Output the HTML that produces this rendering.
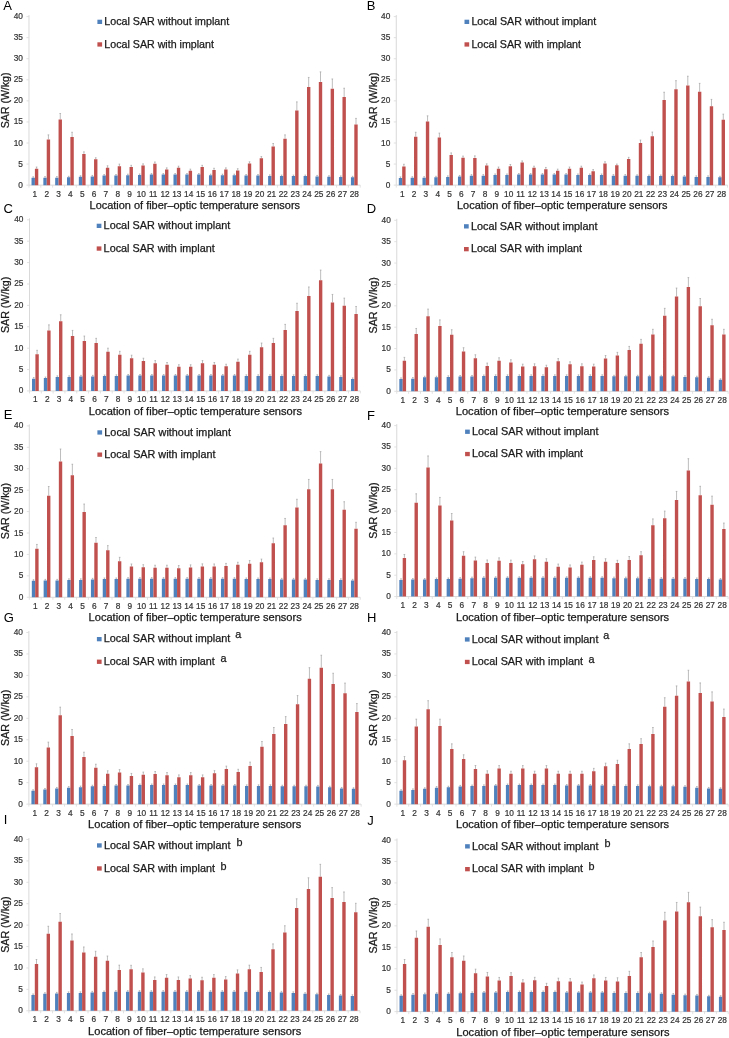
<!DOCTYPE html>
<html><head><meta charset="utf-8"><style>
html,body{margin:0;padding:0;background:#fff;}
svg{display:block;font-family:"Liberation Sans", sans-serif;filter:blur(0.3px);}
</style></head><body>
<svg width="729" height="1038" viewBox="0 0 729 1038">
<rect width="729" height="1038" fill="#fff"/>
<text x="3.3" y="9.9" font-size="13" fill="#000">A</text>
<text x="22.98" y="187.64" font-size="8.3" fill="#333333" stroke="#333333" stroke-width="0.2" text-anchor="end">0</text>
<line x1="26.48" y1="185.14" x2="28.98" y2="185.14" stroke="#D9D9D9" stroke-width="0.8"/>
<text x="22.98" y="166.57" font-size="8.3" fill="#333333" stroke="#333333" stroke-width="0.2" text-anchor="end">5</text>
<line x1="26.48" y1="164.07" x2="28.98" y2="164.07" stroke="#D9D9D9" stroke-width="0.8"/>
<text x="22.98" y="145.5" font-size="8.3" fill="#333333" stroke="#333333" stroke-width="0.2" text-anchor="end">10</text>
<line x1="26.48" y1="143" x2="28.98" y2="143" stroke="#D9D9D9" stroke-width="0.8"/>
<text x="22.98" y="124.44" font-size="8.3" fill="#333333" stroke="#333333" stroke-width="0.2" text-anchor="end">15</text>
<line x1="26.48" y1="121.94" x2="28.98" y2="121.94" stroke="#D9D9D9" stroke-width="0.8"/>
<text x="22.98" y="103.37" font-size="8.3" fill="#333333" stroke="#333333" stroke-width="0.2" text-anchor="end">20</text>
<line x1="26.48" y1="100.87" x2="28.98" y2="100.87" stroke="#D9D9D9" stroke-width="0.8"/>
<text x="22.98" y="82.3" font-size="8.3" fill="#333333" stroke="#333333" stroke-width="0.2" text-anchor="end">25</text>
<line x1="26.48" y1="79.8" x2="28.98" y2="79.8" stroke="#D9D9D9" stroke-width="0.8"/>
<text x="22.98" y="61.23" font-size="8.3" fill="#333333" stroke="#333333" stroke-width="0.2" text-anchor="end">30</text>
<line x1="26.48" y1="58.73" x2="28.98" y2="58.73" stroke="#D9D9D9" stroke-width="0.8"/>
<text x="22.98" y="40.17" font-size="8.3" fill="#333333" stroke="#333333" stroke-width="0.2" text-anchor="end">35</text>
<line x1="26.48" y1="37.67" x2="28.98" y2="37.67" stroke="#D9D9D9" stroke-width="0.8"/>
<text x="22.98" y="19.1" font-size="8.3" fill="#333333" stroke="#333333" stroke-width="0.2" text-anchor="end">40</text>
<line x1="26.48" y1="16.6" x2="28.98" y2="16.6" stroke="#D9D9D9" stroke-width="0.8"/>
<line x1="28.98" y1="15.1" x2="28.98" y2="185.14" stroke="#D9D9D9" stroke-width="1"/>
<line x1="28.98" y1="185.14" x2="360.23" y2="185.14" stroke="#D9D9D9" stroke-width="1"/>
<line x1="28.98" y1="185.14" x2="28.98" y2="187.64" stroke="#D9D9D9" stroke-width="0.8"/>
<line x1="40.81" y1="185.14" x2="40.81" y2="187.64" stroke="#D9D9D9" stroke-width="0.8"/>
<line x1="52.64" y1="185.14" x2="52.64" y2="187.64" stroke="#D9D9D9" stroke-width="0.8"/>
<line x1="64.47" y1="185.14" x2="64.47" y2="187.64" stroke="#D9D9D9" stroke-width="0.8"/>
<line x1="76.31" y1="185.14" x2="76.31" y2="187.64" stroke="#D9D9D9" stroke-width="0.8"/>
<line x1="88.13" y1="185.14" x2="88.13" y2="187.64" stroke="#D9D9D9" stroke-width="0.8"/>
<line x1="99.97" y1="185.14" x2="99.97" y2="187.64" stroke="#D9D9D9" stroke-width="0.8"/>
<line x1="111.8" y1="185.14" x2="111.8" y2="187.64" stroke="#D9D9D9" stroke-width="0.8"/>
<line x1="123.62" y1="185.14" x2="123.62" y2="187.64" stroke="#D9D9D9" stroke-width="0.8"/>
<line x1="135.45" y1="185.14" x2="135.45" y2="187.64" stroke="#D9D9D9" stroke-width="0.8"/>
<line x1="147.28" y1="185.14" x2="147.28" y2="187.64" stroke="#D9D9D9" stroke-width="0.8"/>
<line x1="159.12" y1="185.14" x2="159.12" y2="187.64" stroke="#D9D9D9" stroke-width="0.8"/>
<line x1="170.94" y1="185.14" x2="170.94" y2="187.64" stroke="#D9D9D9" stroke-width="0.8"/>
<line x1="182.77" y1="185.14" x2="182.77" y2="187.64" stroke="#D9D9D9" stroke-width="0.8"/>
<line x1="194.61" y1="185.14" x2="194.61" y2="187.64" stroke="#D9D9D9" stroke-width="0.8"/>
<line x1="206.44" y1="185.14" x2="206.44" y2="187.64" stroke="#D9D9D9" stroke-width="0.8"/>
<line x1="218.26" y1="185.14" x2="218.26" y2="187.64" stroke="#D9D9D9" stroke-width="0.8"/>
<line x1="230.1" y1="185.14" x2="230.1" y2="187.64" stroke="#D9D9D9" stroke-width="0.8"/>
<line x1="241.93" y1="185.14" x2="241.93" y2="187.64" stroke="#D9D9D9" stroke-width="0.8"/>
<line x1="253.75" y1="185.14" x2="253.75" y2="187.64" stroke="#D9D9D9" stroke-width="0.8"/>
<line x1="265.58" y1="185.14" x2="265.58" y2="187.64" stroke="#D9D9D9" stroke-width="0.8"/>
<line x1="277.42" y1="185.14" x2="277.42" y2="187.64" stroke="#D9D9D9" stroke-width="0.8"/>
<line x1="289.25" y1="185.14" x2="289.25" y2="187.64" stroke="#D9D9D9" stroke-width="0.8"/>
<line x1="301.07" y1="185.14" x2="301.07" y2="187.64" stroke="#D9D9D9" stroke-width="0.8"/>
<line x1="312.91" y1="185.14" x2="312.91" y2="187.64" stroke="#D9D9D9" stroke-width="0.8"/>
<line x1="324.74" y1="185.14" x2="324.74" y2="187.64" stroke="#D9D9D9" stroke-width="0.8"/>
<line x1="336.56" y1="185.14" x2="336.56" y2="187.64" stroke="#D9D9D9" stroke-width="0.8"/>
<line x1="348.4" y1="185.14" x2="348.4" y2="187.64" stroke="#D9D9D9" stroke-width="0.8"/>
<line x1="360.23" y1="185.14" x2="360.23" y2="187.64" stroke="#D9D9D9" stroke-width="0.8"/>
<text transform="translate(8.8,100.37) rotate(-90)" font-size="10.5" fill="#1a1a1a" stroke="#1a1a1a" stroke-width="0.25" text-anchor="middle" textLength="55.6" lengthAdjust="spacingAndGlyphs">SAR (W/kg)</text>
<text x="89.6" y="208.7" font-size="10.2" fill="#1a1a1a" stroke="#1a1a1a" stroke-width="0.25" textLength="210.4" lengthAdjust="spacingAndGlyphs">Location of fiber–optic temperature sensors</text>
<text x="34.9" y="196.64" font-size="8.3" fill="#333333" stroke="#333333" stroke-width="0.2" text-anchor="middle">1</text>
<text x="46.73" y="196.64" font-size="8.3" fill="#333333" stroke="#333333" stroke-width="0.2" text-anchor="middle">2</text>
<text x="58.56" y="196.64" font-size="8.3" fill="#333333" stroke="#333333" stroke-width="0.2" text-anchor="middle">3</text>
<text x="70.39" y="196.64" font-size="8.3" fill="#333333" stroke="#333333" stroke-width="0.2" text-anchor="middle">4</text>
<text x="82.22" y="196.64" font-size="8.3" fill="#333333" stroke="#333333" stroke-width="0.2" text-anchor="middle">5</text>
<text x="94.05" y="196.64" font-size="8.3" fill="#333333" stroke="#333333" stroke-width="0.2" text-anchor="middle">6</text>
<text x="105.88" y="196.64" font-size="8.3" fill="#333333" stroke="#333333" stroke-width="0.2" text-anchor="middle">7</text>
<text x="117.71" y="196.64" font-size="8.3" fill="#333333" stroke="#333333" stroke-width="0.2" text-anchor="middle">8</text>
<text x="129.54" y="196.64" font-size="8.3" fill="#333333" stroke="#333333" stroke-width="0.2" text-anchor="middle">9</text>
<text x="141.37" y="196.64" font-size="8.3" fill="#333333" stroke="#333333" stroke-width="0.2" text-anchor="middle">10</text>
<text x="153.2" y="196.64" font-size="8.3" fill="#333333" stroke="#333333" stroke-width="0.2" text-anchor="middle">11</text>
<text x="165.03" y="196.64" font-size="8.3" fill="#333333" stroke="#333333" stroke-width="0.2" text-anchor="middle">12</text>
<text x="176.86" y="196.64" font-size="8.3" fill="#333333" stroke="#333333" stroke-width="0.2" text-anchor="middle">13</text>
<text x="188.69" y="196.64" font-size="8.3" fill="#333333" stroke="#333333" stroke-width="0.2" text-anchor="middle">14</text>
<text x="200.52" y="196.64" font-size="8.3" fill="#333333" stroke="#333333" stroke-width="0.2" text-anchor="middle">15</text>
<text x="212.35" y="196.64" font-size="8.3" fill="#333333" stroke="#333333" stroke-width="0.2" text-anchor="middle">16</text>
<text x="224.18" y="196.64" font-size="8.3" fill="#333333" stroke="#333333" stroke-width="0.2" text-anchor="middle">17</text>
<text x="236.01" y="196.64" font-size="8.3" fill="#333333" stroke="#333333" stroke-width="0.2" text-anchor="middle">18</text>
<text x="247.84" y="196.64" font-size="8.3" fill="#333333" stroke="#333333" stroke-width="0.2" text-anchor="middle">19</text>
<text x="259.67" y="196.64" font-size="8.3" fill="#333333" stroke="#333333" stroke-width="0.2" text-anchor="middle">20</text>
<text x="271.5" y="196.64" font-size="8.3" fill="#333333" stroke="#333333" stroke-width="0.2" text-anchor="middle">21</text>
<text x="283.33" y="196.64" font-size="8.3" fill="#333333" stroke="#333333" stroke-width="0.2" text-anchor="middle">22</text>
<text x="295.16" y="196.64" font-size="8.3" fill="#333333" stroke="#333333" stroke-width="0.2" text-anchor="middle">23</text>
<text x="306.99" y="196.64" font-size="8.3" fill="#333333" stroke="#333333" stroke-width="0.2" text-anchor="middle">24</text>
<text x="318.82" y="196.64" font-size="8.3" fill="#333333" stroke="#333333" stroke-width="0.2" text-anchor="middle">25</text>
<text x="330.65" y="196.64" font-size="8.3" fill="#333333" stroke="#333333" stroke-width="0.2" text-anchor="middle">26</text>
<text x="342.48" y="196.64" font-size="8.3" fill="#333333" stroke="#333333" stroke-width="0.2" text-anchor="middle">27</text>
<text x="354.31" y="196.64" font-size="8.3" fill="#333333" stroke="#333333" stroke-width="0.2" text-anchor="middle">28</text>
<rect x="97.4" y="19.7" width="4.7" height="4.3" fill="#4F81BD"/>
<rect x="97.4" y="42.3" width="4.7" height="4.3" fill="#C0504D"/>
<text x="104.33" y="25" font-size="10.2" fill="#1a1a1a" stroke="#1a1a1a" stroke-width="0.25" textLength="124.8" lengthAdjust="spacingAndGlyphs">Local SAR without implant</text>
<text x="104.33" y="47.6" font-size="10.2" fill="#1a1a1a" stroke="#1a1a1a" stroke-width="0.25" textLength="109.6" lengthAdjust="spacingAndGlyphs">Local SAR with implant</text>
<path d="M33.21 177.85V176.8M32.41 176.8h1.6M36.59 168.71V167.02M35.79 167.02h1.6M45.04 177.68V176.63M44.24 176.63h1.6M48.42 139.38V134.87M47.62 134.87h1.6M56.87 177.68V176.63M56.07 176.63h1.6M60.25 119.41V113.51M59.45 113.51h1.6M68.7 177.35V176.29M67.9 176.29h1.6M72.08 137.11V132.26M71.28 132.26h1.6M80.53 176.8V175.74M79.73 175.74h1.6M83.91 153.96V151.85M83.11 151.85h1.6M92.36 176.46V175.41M91.56 175.41h1.6M95.74 159.14V157.75M94.94 157.75h1.6M104.19 175.62V174.56M103.39 174.56h1.6M107.57 167.86V165.76M106.77 165.76h1.6M116.02 175.62V174.56M115.22 174.56h1.6M119.4 166.18V164.07M118.6 164.07h1.6M127.85 175.24V174.18M127.05 174.18h1.6M131.23 167.02V165.34M130.43 165.34h1.6M139.68 175.03V173.97M138.88 173.97h1.6M143.06 165.55V163.86M142.26 163.86h1.6M151.51 174.61V173.55M150.71 173.55h1.6M154.89 163.65V161.97M154.09 161.97h1.6M163.34 174.61V173.55M162.54 173.55h1.6M166.72 169.55V167.86M165.92 167.86h1.6M175.17 174.61V173.55M174.37 173.55h1.6M178.55 167.86V166.18M177.75 166.18h1.6M187 174.61V173.55M186.2 173.55h1.6M190.38 170.81V169.13M189.58 169.13h1.6M198.83 174.61V173.55M198.03 173.55h1.6M202.21 167.02V165.34M201.41 165.34h1.6M210.66 175.24V174.18M209.86 174.18h1.6M214.04 169.97V168.29M213.24 168.29h1.6M222.49 175.24V174.18M221.69 174.18h1.6M225.87 169.55V167.86M225.07 167.86h1.6M234.32 175.24V174.18M233.52 174.18h1.6M237.7 170.39V168.71M236.9 168.71h1.6M246.15 175.62V174.56M245.35 174.56h1.6M249.53 163.48V161.8M248.73 161.8h1.6M257.98 175.62V174.56M257.18 174.56h1.6M261.36 158.26V156.57M260.56 156.57h1.6M269.81 175.95V174.9M269.01 174.9h1.6M273.19 146.46V143.51M272.39 143.51h1.6M281.64 176.12V175.07M280.84 175.07h1.6M285.02 138.67V134.87M284.22 134.87h1.6M293.47 176.12V175.07M292.67 175.07h1.6M296.85 110.56V101.88M296.05 101.88h1.6M305.3 176.12V175.07M304.5 175.07h1.6M308.68 86.97V77.44M307.88 77.44h1.6M317.13 176.46V175.41M316.33 175.41h1.6M320.51 81.91V71.88M319.71 71.88h1.6M328.96 176.8V175.74M328.16 175.74h1.6M332.34 88.65V78.96M331.54 78.96h1.6M340.79 177.01V175.95M339.99 175.95h1.6M344.17 97.08V88.23M343.37 88.23h1.6M352.62 177.35V176.29M351.82 176.29h1.6M356 124.47V118.4M355.2 118.4h1.6" stroke="#A0A0A0" stroke-width="0.7" fill="none"/>
<path d="M31.52 185.14h3.38v-7.29h-3.38zM43.35 185.14h3.38v-7.46h-3.38zM55.18 185.14h3.38v-7.46h-3.38zM67.01 185.14h3.38v-7.79h-3.38zM78.84 185.14h3.38v-8.34h-3.38zM90.67 185.14h3.38v-8.68h-3.38zM102.5 185.14h3.38v-9.52h-3.38zM114.33 185.14h3.38v-9.52h-3.38zM126.16 185.14h3.38v-9.9h-3.38zM137.99 185.14h3.38v-10.11h-3.38zM149.82 185.14h3.38v-10.53h-3.38zM161.65 185.14h3.38v-10.53h-3.38zM173.48 185.14h3.38v-10.53h-3.38zM185.31 185.14h3.38v-10.53h-3.38zM197.14 185.14h3.38v-10.53h-3.38zM208.97 185.14h3.38v-9.9h-3.38zM220.8 185.14h3.38v-9.9h-3.38zM232.63 185.14h3.38v-9.9h-3.38zM244.46 185.14h3.38v-9.52h-3.38zM256.29 185.14h3.38v-9.52h-3.38zM268.12 185.14h3.38v-9.19h-3.38zM279.95 185.14h3.38v-9.02h-3.38zM291.78 185.14h3.38v-9.02h-3.38zM303.61 185.14h3.38v-9.02h-3.38zM315.44 185.14h3.38v-8.68h-3.38zM327.27 185.14h3.38v-8.34h-3.38zM339.1 185.14h3.38v-8.13h-3.38zM350.93 185.14h3.38v-7.79h-3.38z" fill="#4F81BD"/>
<path d="M34.9 185.14h3.38v-16.43h-3.38zM46.73 185.14h3.38v-45.76h-3.38zM58.56 185.14h3.38v-65.73h-3.38zM70.39 185.14h3.38v-48.03h-3.38zM82.22 185.14h3.38v-31.18h-3.38zM94.05 185.14h3.38v-26h-3.38zM105.88 185.14h3.38v-17.28h-3.38zM117.71 185.14h3.38v-18.96h-3.38zM129.54 185.14h3.38v-18.12h-3.38zM141.37 185.14h3.38v-19.59h-3.38zM153.2 185.14h3.38v-21.49h-3.38zM165.03 185.14h3.38v-15.59h-3.38zM176.86 185.14h3.38v-17.28h-3.38zM188.69 185.14h3.38v-14.33h-3.38zM200.52 185.14h3.38v-18.12h-3.38zM212.35 185.14h3.38v-15.17h-3.38zM224.18 185.14h3.38v-15.59h-3.38zM236.01 185.14h3.38v-14.75h-3.38zM247.84 185.14h3.38v-21.66h-3.38zM259.67 185.14h3.38v-26.88h-3.38zM271.5 185.14h3.38v-38.68h-3.38zM283.33 185.14h3.38v-46.47h-3.38zM295.16 185.14h3.38v-74.58h-3.38zM306.99 185.14h3.38v-98.17h-3.38zM318.82 185.14h3.38v-103.23h-3.38zM330.65 185.14h3.38v-96.49h-3.38zM342.48 185.14h3.38v-88.06h-3.38zM354.31 185.14h3.38v-60.67h-3.38z" fill="#C0504D"/>
<text x="366.7" y="10.2" font-size="13" fill="#000">B</text>
<text x="390.28" y="187.64" font-size="8.3" fill="#333333" stroke="#333333" stroke-width="0.2" text-anchor="end">0</text>
<line x1="393.78" y1="185.14" x2="396.28" y2="185.14" stroke="#D9D9D9" stroke-width="0.8"/>
<text x="390.28" y="166.57" font-size="8.3" fill="#333333" stroke="#333333" stroke-width="0.2" text-anchor="end">5</text>
<line x1="393.78" y1="164.07" x2="396.28" y2="164.07" stroke="#D9D9D9" stroke-width="0.8"/>
<text x="390.28" y="145.5" font-size="8.3" fill="#333333" stroke="#333333" stroke-width="0.2" text-anchor="end">10</text>
<line x1="393.78" y1="143" x2="396.28" y2="143" stroke="#D9D9D9" stroke-width="0.8"/>
<text x="390.28" y="124.44" font-size="8.3" fill="#333333" stroke="#333333" stroke-width="0.2" text-anchor="end">15</text>
<line x1="393.78" y1="121.94" x2="396.28" y2="121.94" stroke="#D9D9D9" stroke-width="0.8"/>
<text x="390.28" y="103.37" font-size="8.3" fill="#333333" stroke="#333333" stroke-width="0.2" text-anchor="end">20</text>
<line x1="393.78" y1="100.87" x2="396.28" y2="100.87" stroke="#D9D9D9" stroke-width="0.8"/>
<text x="390.28" y="82.3" font-size="8.3" fill="#333333" stroke="#333333" stroke-width="0.2" text-anchor="end">25</text>
<line x1="393.78" y1="79.8" x2="396.28" y2="79.8" stroke="#D9D9D9" stroke-width="0.8"/>
<text x="390.28" y="61.23" font-size="8.3" fill="#333333" stroke="#333333" stroke-width="0.2" text-anchor="end">30</text>
<line x1="393.78" y1="58.73" x2="396.28" y2="58.73" stroke="#D9D9D9" stroke-width="0.8"/>
<text x="390.28" y="40.17" font-size="8.3" fill="#333333" stroke="#333333" stroke-width="0.2" text-anchor="end">35</text>
<line x1="393.78" y1="37.67" x2="396.28" y2="37.67" stroke="#D9D9D9" stroke-width="0.8"/>
<text x="390.28" y="19.1" font-size="8.3" fill="#333333" stroke="#333333" stroke-width="0.2" text-anchor="end">40</text>
<line x1="393.78" y1="16.6" x2="396.28" y2="16.6" stroke="#D9D9D9" stroke-width="0.8"/>
<line x1="396.28" y1="15.1" x2="396.28" y2="185.14" stroke="#D9D9D9" stroke-width="1"/>
<line x1="396.28" y1="185.14" x2="727.52" y2="185.14" stroke="#D9D9D9" stroke-width="1"/>
<line x1="396.28" y1="185.14" x2="396.28" y2="187.64" stroke="#D9D9D9" stroke-width="0.8"/>
<line x1="408.11" y1="185.14" x2="408.11" y2="187.64" stroke="#D9D9D9" stroke-width="0.8"/>
<line x1="419.94" y1="185.14" x2="419.94" y2="187.64" stroke="#D9D9D9" stroke-width="0.8"/>
<line x1="431.77" y1="185.14" x2="431.77" y2="187.64" stroke="#D9D9D9" stroke-width="0.8"/>
<line x1="443.6" y1="185.14" x2="443.6" y2="187.64" stroke="#D9D9D9" stroke-width="0.8"/>
<line x1="455.43" y1="185.14" x2="455.43" y2="187.64" stroke="#D9D9D9" stroke-width="0.8"/>
<line x1="467.26" y1="185.14" x2="467.26" y2="187.64" stroke="#D9D9D9" stroke-width="0.8"/>
<line x1="479.09" y1="185.14" x2="479.09" y2="187.64" stroke="#D9D9D9" stroke-width="0.8"/>
<line x1="490.92" y1="185.14" x2="490.92" y2="187.64" stroke="#D9D9D9" stroke-width="0.8"/>
<line x1="502.75" y1="185.14" x2="502.75" y2="187.64" stroke="#D9D9D9" stroke-width="0.8"/>
<line x1="514.58" y1="185.14" x2="514.58" y2="187.64" stroke="#D9D9D9" stroke-width="0.8"/>
<line x1="526.41" y1="185.14" x2="526.41" y2="187.64" stroke="#D9D9D9" stroke-width="0.8"/>
<line x1="538.25" y1="185.14" x2="538.25" y2="187.64" stroke="#D9D9D9" stroke-width="0.8"/>
<line x1="550.07" y1="185.14" x2="550.07" y2="187.64" stroke="#D9D9D9" stroke-width="0.8"/>
<line x1="561.9" y1="185.14" x2="561.9" y2="187.64" stroke="#D9D9D9" stroke-width="0.8"/>
<line x1="573.73" y1="185.14" x2="573.73" y2="187.64" stroke="#D9D9D9" stroke-width="0.8"/>
<line x1="585.56" y1="185.14" x2="585.56" y2="187.64" stroke="#D9D9D9" stroke-width="0.8"/>
<line x1="597.39" y1="185.14" x2="597.39" y2="187.64" stroke="#D9D9D9" stroke-width="0.8"/>
<line x1="609.22" y1="185.14" x2="609.22" y2="187.64" stroke="#D9D9D9" stroke-width="0.8"/>
<line x1="621.05" y1="185.14" x2="621.05" y2="187.64" stroke="#D9D9D9" stroke-width="0.8"/>
<line x1="632.88" y1="185.14" x2="632.88" y2="187.64" stroke="#D9D9D9" stroke-width="0.8"/>
<line x1="644.71" y1="185.14" x2="644.71" y2="187.64" stroke="#D9D9D9" stroke-width="0.8"/>
<line x1="656.54" y1="185.14" x2="656.54" y2="187.64" stroke="#D9D9D9" stroke-width="0.8"/>
<line x1="668.38" y1="185.14" x2="668.38" y2="187.64" stroke="#D9D9D9" stroke-width="0.8"/>
<line x1="680.2" y1="185.14" x2="680.2" y2="187.64" stroke="#D9D9D9" stroke-width="0.8"/>
<line x1="692.03" y1="185.14" x2="692.03" y2="187.64" stroke="#D9D9D9" stroke-width="0.8"/>
<line x1="703.87" y1="185.14" x2="703.87" y2="187.64" stroke="#D9D9D9" stroke-width="0.8"/>
<line x1="715.69" y1="185.14" x2="715.69" y2="187.64" stroke="#D9D9D9" stroke-width="0.8"/>
<line x1="727.52" y1="185.14" x2="727.52" y2="187.64" stroke="#D9D9D9" stroke-width="0.8"/>
<text transform="translate(376.6,100.37) rotate(-90)" font-size="10.5" fill="#1a1a1a" stroke="#1a1a1a" stroke-width="0.25" text-anchor="middle" textLength="55.6" lengthAdjust="spacingAndGlyphs">SAR (W/kg)</text>
<text x="457" y="208.7" font-size="10.2" fill="#1a1a1a" stroke="#1a1a1a" stroke-width="0.25" textLength="210.4" lengthAdjust="spacingAndGlyphs">Location of fiber–optic temperature sensors</text>
<text x="402.2" y="196.64" font-size="8.3" fill="#333333" stroke="#333333" stroke-width="0.2" text-anchor="middle">1</text>
<text x="414.03" y="196.64" font-size="8.3" fill="#333333" stroke="#333333" stroke-width="0.2" text-anchor="middle">2</text>
<text x="425.86" y="196.64" font-size="8.3" fill="#333333" stroke="#333333" stroke-width="0.2" text-anchor="middle">3</text>
<text x="437.69" y="196.64" font-size="8.3" fill="#333333" stroke="#333333" stroke-width="0.2" text-anchor="middle">4</text>
<text x="449.52" y="196.64" font-size="8.3" fill="#333333" stroke="#333333" stroke-width="0.2" text-anchor="middle">5</text>
<text x="461.35" y="196.64" font-size="8.3" fill="#333333" stroke="#333333" stroke-width="0.2" text-anchor="middle">6</text>
<text x="473.18" y="196.64" font-size="8.3" fill="#333333" stroke="#333333" stroke-width="0.2" text-anchor="middle">7</text>
<text x="485.01" y="196.64" font-size="8.3" fill="#333333" stroke="#333333" stroke-width="0.2" text-anchor="middle">8</text>
<text x="496.84" y="196.64" font-size="8.3" fill="#333333" stroke="#333333" stroke-width="0.2" text-anchor="middle">9</text>
<text x="508.67" y="196.64" font-size="8.3" fill="#333333" stroke="#333333" stroke-width="0.2" text-anchor="middle">10</text>
<text x="520.5" y="196.64" font-size="8.3" fill="#333333" stroke="#333333" stroke-width="0.2" text-anchor="middle">11</text>
<text x="532.33" y="196.64" font-size="8.3" fill="#333333" stroke="#333333" stroke-width="0.2" text-anchor="middle">12</text>
<text x="544.16" y="196.64" font-size="8.3" fill="#333333" stroke="#333333" stroke-width="0.2" text-anchor="middle">13</text>
<text x="555.99" y="196.64" font-size="8.3" fill="#333333" stroke="#333333" stroke-width="0.2" text-anchor="middle">14</text>
<text x="567.82" y="196.64" font-size="8.3" fill="#333333" stroke="#333333" stroke-width="0.2" text-anchor="middle">15</text>
<text x="579.65" y="196.64" font-size="8.3" fill="#333333" stroke="#333333" stroke-width="0.2" text-anchor="middle">16</text>
<text x="591.48" y="196.64" font-size="8.3" fill="#333333" stroke="#333333" stroke-width="0.2" text-anchor="middle">17</text>
<text x="603.31" y="196.64" font-size="8.3" fill="#333333" stroke="#333333" stroke-width="0.2" text-anchor="middle">18</text>
<text x="615.14" y="196.64" font-size="8.3" fill="#333333" stroke="#333333" stroke-width="0.2" text-anchor="middle">19</text>
<text x="626.97" y="196.64" font-size="8.3" fill="#333333" stroke="#333333" stroke-width="0.2" text-anchor="middle">20</text>
<text x="638.8" y="196.64" font-size="8.3" fill="#333333" stroke="#333333" stroke-width="0.2" text-anchor="middle">21</text>
<text x="650.63" y="196.64" font-size="8.3" fill="#333333" stroke="#333333" stroke-width="0.2" text-anchor="middle">22</text>
<text x="662.46" y="196.64" font-size="8.3" fill="#333333" stroke="#333333" stroke-width="0.2" text-anchor="middle">23</text>
<text x="674.29" y="196.64" font-size="8.3" fill="#333333" stroke="#333333" stroke-width="0.2" text-anchor="middle">24</text>
<text x="686.12" y="196.64" font-size="8.3" fill="#333333" stroke="#333333" stroke-width="0.2" text-anchor="middle">25</text>
<text x="697.95" y="196.64" font-size="8.3" fill="#333333" stroke="#333333" stroke-width="0.2" text-anchor="middle">26</text>
<text x="709.78" y="196.64" font-size="8.3" fill="#333333" stroke="#333333" stroke-width="0.2" text-anchor="middle">27</text>
<text x="721.61" y="196.64" font-size="8.3" fill="#333333" stroke="#333333" stroke-width="0.2" text-anchor="middle">28</text>
<rect x="464.5" y="19.7" width="4.7" height="4.3" fill="#4F81BD"/>
<rect x="464.5" y="42.3" width="4.7" height="4.3" fill="#C0504D"/>
<text x="471.43" y="25" font-size="10.2" fill="#1a1a1a" stroke="#1a1a1a" stroke-width="0.25" textLength="124.8" lengthAdjust="spacingAndGlyphs">Local SAR without implant</text>
<text x="471.43" y="47.6" font-size="10.2" fill="#1a1a1a" stroke="#1a1a1a" stroke-width="0.25" textLength="109.6" lengthAdjust="spacingAndGlyphs">Local SAR with implant</text>
<path d="M400.51 177.98V176.92M399.71 176.92h1.6M403.89 166.6V164.28M403.09 164.28h1.6M412.34 177.77V176.71M411.54 176.71h1.6M415.72 136.68V132.26M414.92 132.26h1.6M424.17 177.77V176.71M423.37 176.71h1.6M427.55 121.52V115.83M426.75 115.83h1.6M436 177.35V176.29M435.2 176.29h1.6M439.38 137.53V133.1M438.58 133.1h1.6M447.83 176.92V175.87M447.03 175.87h1.6M451.21 155.01V152.91M450.41 152.91h1.6M459.66 176.5V175.45M458.86 175.45h1.6M463.04 157.75V156.07M462.24 156.07h1.6M471.49 175.66V174.61M470.69 174.61h1.6M474.87 157.96V155.86M474.07 155.86h1.6M483.32 175.66V174.61M482.52 174.61h1.6M486.7 165.55V163.86M485.9 163.86h1.6M495.15 175.03V173.97M494.35 173.97h1.6M498.53 168.71V167.02M497.73 167.02h1.6M506.98 175.03V173.97M506.18 173.97h1.6M510.36 166.18V164.49M509.56 164.49h1.6M518.81 174.61V173.55M518.01 173.55h1.6M522.19 162.6V160.91M521.39 160.91h1.6M530.64 174.61V173.55M529.84 173.55h1.6M534.02 167.86V166.18M533.22 166.18h1.6M542.47 174.61V173.55M541.67 173.55h1.6M545.85 169.13V167.44M545.05 167.44h1.6M554.3 174.61V173.55M553.5 173.55h1.6M557.68 170.81V169.13M556.88 169.13h1.6M566.13 174.61V173.55M565.33 173.55h1.6M569.51 168.71V167.02M568.71 167.02h1.6M577.96 175.03V173.97M577.16 173.97h1.6M581.34 167.86V166.18M580.54 166.18h1.6M589.79 175.03V173.97M588.99 173.97h1.6M593.17 171.24V169.55M592.37 169.55h1.6M601.62 175.03V173.97M600.82 173.97h1.6M605 163.44V161.76M604.2 161.76h1.6M613.45 175.66V174.61M612.65 174.61h1.6M616.83 165.34V164.07M616.03 164.07h1.6M625.28 175.66V174.61M624.48 174.61h1.6M628.66 159.02V157.33M627.86 157.33h1.6M637.11 175.87V174.82M636.31 174.82h1.6M640.49 143V140.06M639.69 140.06h1.6M648.94 176.08V175.03M648.14 175.03h1.6M652.32 136.26V132.05M651.52 132.05h1.6M660.77 176.08V175.03M659.97 175.03h1.6M664.15 100.03V92.23M663.35 92.23h1.6M672.6 176.08V175.03M671.8 175.03h1.6M675.98 89.28V80.65M675.18 80.65h1.6M684.43 176.5V175.45M683.63 175.45h1.6M687.81 85.49V76.22M687.01 76.22h1.6M696.26 176.92V175.87M695.46 175.87h1.6M699.64 91.81V83.38M698.84 83.38h1.6M708.09 176.92V175.87M707.29 175.87h1.6M711.47 106.35V99.4M710.67 99.4h1.6M719.92 177.35V176.29M719.12 176.29h1.6M723.3 119.83V114.14M722.5 114.14h1.6" stroke="#A0A0A0" stroke-width="0.7" fill="none"/>
<path d="M398.82 185.14h3.38v-7.16h-3.38zM410.65 185.14h3.38v-7.37h-3.38zM422.48 185.14h3.38v-7.37h-3.38zM434.31 185.14h3.38v-7.79h-3.38zM446.14 185.14h3.38v-8.22h-3.38zM457.97 185.14h3.38v-8.64h-3.38zM469.8 185.14h3.38v-9.48h-3.38zM481.63 185.14h3.38v-9.48h-3.38zM493.46 185.14h3.38v-10.11h-3.38zM505.29 185.14h3.38v-10.11h-3.38zM517.12 185.14h3.38v-10.53h-3.38zM528.95 185.14h3.38v-10.53h-3.38zM540.78 185.14h3.38v-10.53h-3.38zM552.61 185.14h3.38v-10.53h-3.38zM564.44 185.14h3.38v-10.53h-3.38zM576.27 185.14h3.38v-10.11h-3.38zM588.1 185.14h3.38v-10.11h-3.38zM599.93 185.14h3.38v-10.11h-3.38zM611.76 185.14h3.38v-9.48h-3.38zM623.59 185.14h3.38v-9.48h-3.38zM635.42 185.14h3.38v-9.27h-3.38zM647.25 185.14h3.38v-9.06h-3.38zM659.08 185.14h3.38v-9.06h-3.38zM670.91 185.14h3.38v-9.06h-3.38zM682.74 185.14h3.38v-8.64h-3.38zM694.57 185.14h3.38v-8.22h-3.38zM706.4 185.14h3.38v-8.22h-3.38zM718.23 185.14h3.38v-7.79h-3.38z" fill="#4F81BD"/>
<path d="M402.2 185.14h3.38v-18.54h-3.38zM414.03 185.14h3.38v-48.46h-3.38zM425.86 185.14h3.38v-63.62h-3.38zM437.69 185.14h3.38v-47.61h-3.38zM449.52 185.14h3.38v-30.13h-3.38zM461.35 185.14h3.38v-27.39h-3.38zM473.18 185.14h3.38v-27.18h-3.38zM485.01 185.14h3.38v-19.59h-3.38zM496.84 185.14h3.38v-16.43h-3.38zM508.67 185.14h3.38v-18.96h-3.38zM520.5 185.14h3.38v-22.54h-3.38zM532.33 185.14h3.38v-17.28h-3.38zM544.16 185.14h3.38v-16.01h-3.38zM555.99 185.14h3.38v-14.33h-3.38zM567.82 185.14h3.38v-16.43h-3.38zM579.65 185.14h3.38v-17.28h-3.38zM591.48 185.14h3.38v-13.9h-3.38zM603.31 185.14h3.38v-21.7h-3.38zM615.14 185.14h3.38v-19.8h-3.38zM626.97 185.14h3.38v-26.12h-3.38zM638.8 185.14h3.38v-42.13h-3.38zM650.63 185.14h3.38v-48.88h-3.38zM662.46 185.14h3.38v-85.11h-3.38zM674.29 185.14h3.38v-95.86h-3.38zM686.12 185.14h3.38v-99.65h-3.38zM697.95 185.14h3.38v-93.33h-3.38zM709.78 185.14h3.38v-78.79h-3.38zM721.61 185.14h3.38v-65.31h-3.38z" fill="#C0504D"/>
<text x="3.47" y="212.6" font-size="13" fill="#000">C</text>
<text x="23.49" y="393.46" font-size="8.3" fill="#333333" stroke="#333333" stroke-width="0.2" text-anchor="end">0</text>
<line x1="26.99" y1="390.96" x2="29.49" y2="390.96" stroke="#D9D9D9" stroke-width="0.8"/>
<text x="23.49" y="372.06" font-size="8.3" fill="#333333" stroke="#333333" stroke-width="0.2" text-anchor="end">5</text>
<line x1="26.99" y1="369.56" x2="29.49" y2="369.56" stroke="#D9D9D9" stroke-width="0.8"/>
<text x="23.49" y="350.67" font-size="8.3" fill="#333333" stroke="#333333" stroke-width="0.2" text-anchor="end">10</text>
<line x1="26.99" y1="348.17" x2="29.49" y2="348.17" stroke="#D9D9D9" stroke-width="0.8"/>
<text x="23.49" y="329.27" font-size="8.3" fill="#333333" stroke="#333333" stroke-width="0.2" text-anchor="end">15</text>
<line x1="26.99" y1="326.77" x2="29.49" y2="326.77" stroke="#D9D9D9" stroke-width="0.8"/>
<text x="23.49" y="307.88" font-size="8.3" fill="#333333" stroke="#333333" stroke-width="0.2" text-anchor="end">20</text>
<line x1="26.99" y1="305.38" x2="29.49" y2="305.38" stroke="#D9D9D9" stroke-width="0.8"/>
<text x="23.49" y="286.49" font-size="8.3" fill="#333333" stroke="#333333" stroke-width="0.2" text-anchor="end">25</text>
<line x1="26.99" y1="283.99" x2="29.49" y2="283.99" stroke="#D9D9D9" stroke-width="0.8"/>
<text x="23.49" y="265.09" font-size="8.3" fill="#333333" stroke="#333333" stroke-width="0.2" text-anchor="end">30</text>
<line x1="26.99" y1="262.59" x2="29.49" y2="262.59" stroke="#D9D9D9" stroke-width="0.8"/>
<text x="23.49" y="243.7" font-size="8.3" fill="#333333" stroke="#333333" stroke-width="0.2" text-anchor="end">35</text>
<line x1="26.99" y1="241.2" x2="29.49" y2="241.2" stroke="#D9D9D9" stroke-width="0.8"/>
<text x="23.49" y="222.3" font-size="8.3" fill="#333333" stroke="#333333" stroke-width="0.2" text-anchor="end">40</text>
<line x1="26.99" y1="219.8" x2="29.49" y2="219.8" stroke="#D9D9D9" stroke-width="0.8"/>
<line x1="29.49" y1="218.3" x2="29.49" y2="390.96" stroke="#D9D9D9" stroke-width="1"/>
<line x1="29.49" y1="390.96" x2="360.31" y2="390.96" stroke="#D9D9D9" stroke-width="1"/>
<line x1="29.49" y1="390.96" x2="29.49" y2="393.46" stroke="#D9D9D9" stroke-width="0.8"/>
<line x1="41.31" y1="390.96" x2="41.31" y2="393.46" stroke="#D9D9D9" stroke-width="0.8"/>
<line x1="53.12" y1="390.96" x2="53.12" y2="393.46" stroke="#D9D9D9" stroke-width="0.8"/>
<line x1="64.94" y1="390.96" x2="64.94" y2="393.46" stroke="#D9D9D9" stroke-width="0.8"/>
<line x1="76.75" y1="390.96" x2="76.75" y2="393.46" stroke="#D9D9D9" stroke-width="0.8"/>
<line x1="88.57" y1="390.96" x2="88.57" y2="393.46" stroke="#D9D9D9" stroke-width="0.8"/>
<line x1="100.38" y1="390.96" x2="100.38" y2="393.46" stroke="#D9D9D9" stroke-width="0.8"/>
<line x1="112.2" y1="390.96" x2="112.2" y2="393.46" stroke="#D9D9D9" stroke-width="0.8"/>
<line x1="124.01" y1="390.96" x2="124.01" y2="393.46" stroke="#D9D9D9" stroke-width="0.8"/>
<line x1="135.83" y1="390.96" x2="135.83" y2="393.46" stroke="#D9D9D9" stroke-width="0.8"/>
<line x1="147.64" y1="390.96" x2="147.64" y2="393.46" stroke="#D9D9D9" stroke-width="0.8"/>
<line x1="159.46" y1="390.96" x2="159.46" y2="393.46" stroke="#D9D9D9" stroke-width="0.8"/>
<line x1="171.27" y1="390.96" x2="171.27" y2="393.46" stroke="#D9D9D9" stroke-width="0.8"/>
<line x1="183.09" y1="390.96" x2="183.09" y2="393.46" stroke="#D9D9D9" stroke-width="0.8"/>
<line x1="194.9" y1="390.96" x2="194.9" y2="393.46" stroke="#D9D9D9" stroke-width="0.8"/>
<line x1="206.72" y1="390.96" x2="206.72" y2="393.46" stroke="#D9D9D9" stroke-width="0.8"/>
<line x1="218.53" y1="390.96" x2="218.53" y2="393.46" stroke="#D9D9D9" stroke-width="0.8"/>
<line x1="230.35" y1="390.96" x2="230.35" y2="393.46" stroke="#D9D9D9" stroke-width="0.8"/>
<line x1="242.16" y1="390.96" x2="242.16" y2="393.46" stroke="#D9D9D9" stroke-width="0.8"/>
<line x1="253.98" y1="390.96" x2="253.98" y2="393.46" stroke="#D9D9D9" stroke-width="0.8"/>
<line x1="265.79" y1="390.96" x2="265.79" y2="393.46" stroke="#D9D9D9" stroke-width="0.8"/>
<line x1="277.61" y1="390.96" x2="277.61" y2="393.46" stroke="#D9D9D9" stroke-width="0.8"/>
<line x1="289.42" y1="390.96" x2="289.42" y2="393.46" stroke="#D9D9D9" stroke-width="0.8"/>
<line x1="301.24" y1="390.96" x2="301.24" y2="393.46" stroke="#D9D9D9" stroke-width="0.8"/>
<line x1="313.05" y1="390.96" x2="313.05" y2="393.46" stroke="#D9D9D9" stroke-width="0.8"/>
<line x1="324.87" y1="390.96" x2="324.87" y2="393.46" stroke="#D9D9D9" stroke-width="0.8"/>
<line x1="336.68" y1="390.96" x2="336.68" y2="393.46" stroke="#D9D9D9" stroke-width="0.8"/>
<line x1="348.5" y1="390.96" x2="348.5" y2="393.46" stroke="#D9D9D9" stroke-width="0.8"/>
<line x1="360.31" y1="390.96" x2="360.31" y2="393.46" stroke="#D9D9D9" stroke-width="0.8"/>
<text transform="translate(8.8,304.88) rotate(-90)" font-size="10.5" fill="#1a1a1a" stroke="#1a1a1a" stroke-width="0.25" text-anchor="middle" textLength="56.3" lengthAdjust="spacingAndGlyphs">SAR (W/kg)</text>
<text x="88.8" y="414.7" font-size="10.2" fill="#1a1a1a" stroke="#1a1a1a" stroke-width="0.25" textLength="213.14" lengthAdjust="spacingAndGlyphs">Location of fiber–optic temperature sensors</text>
<text x="35.4" y="402.46" font-size="8.3" fill="#333333" stroke="#333333" stroke-width="0.2" text-anchor="middle">1</text>
<text x="47.22" y="402.46" font-size="8.3" fill="#333333" stroke="#333333" stroke-width="0.2" text-anchor="middle">2</text>
<text x="59.03" y="402.46" font-size="8.3" fill="#333333" stroke="#333333" stroke-width="0.2" text-anchor="middle">3</text>
<text x="70.84" y="402.46" font-size="8.3" fill="#333333" stroke="#333333" stroke-width="0.2" text-anchor="middle">4</text>
<text x="82.66" y="402.46" font-size="8.3" fill="#333333" stroke="#333333" stroke-width="0.2" text-anchor="middle">5</text>
<text x="94.47" y="402.46" font-size="8.3" fill="#333333" stroke="#333333" stroke-width="0.2" text-anchor="middle">6</text>
<text x="106.29" y="402.46" font-size="8.3" fill="#333333" stroke="#333333" stroke-width="0.2" text-anchor="middle">7</text>
<text x="118.1" y="402.46" font-size="8.3" fill="#333333" stroke="#333333" stroke-width="0.2" text-anchor="middle">8</text>
<text x="129.92" y="402.46" font-size="8.3" fill="#333333" stroke="#333333" stroke-width="0.2" text-anchor="middle">9</text>
<text x="141.73" y="402.46" font-size="8.3" fill="#333333" stroke="#333333" stroke-width="0.2" text-anchor="middle">10</text>
<text x="153.55" y="402.46" font-size="8.3" fill="#333333" stroke="#333333" stroke-width="0.2" text-anchor="middle">11</text>
<text x="165.37" y="402.46" font-size="8.3" fill="#333333" stroke="#333333" stroke-width="0.2" text-anchor="middle">12</text>
<text x="177.18" y="402.46" font-size="8.3" fill="#333333" stroke="#333333" stroke-width="0.2" text-anchor="middle">13</text>
<text x="189" y="402.46" font-size="8.3" fill="#333333" stroke="#333333" stroke-width="0.2" text-anchor="middle">14</text>
<text x="200.81" y="402.46" font-size="8.3" fill="#333333" stroke="#333333" stroke-width="0.2" text-anchor="middle">15</text>
<text x="212.62" y="402.46" font-size="8.3" fill="#333333" stroke="#333333" stroke-width="0.2" text-anchor="middle">16</text>
<text x="224.44" y="402.46" font-size="8.3" fill="#333333" stroke="#333333" stroke-width="0.2" text-anchor="middle">17</text>
<text x="236.25" y="402.46" font-size="8.3" fill="#333333" stroke="#333333" stroke-width="0.2" text-anchor="middle">18</text>
<text x="248.07" y="402.46" font-size="8.3" fill="#333333" stroke="#333333" stroke-width="0.2" text-anchor="middle">19</text>
<text x="259.88" y="402.46" font-size="8.3" fill="#333333" stroke="#333333" stroke-width="0.2" text-anchor="middle">20</text>
<text x="271.7" y="402.46" font-size="8.3" fill="#333333" stroke="#333333" stroke-width="0.2" text-anchor="middle">21</text>
<text x="283.51" y="402.46" font-size="8.3" fill="#333333" stroke="#333333" stroke-width="0.2" text-anchor="middle">22</text>
<text x="295.33" y="402.46" font-size="8.3" fill="#333333" stroke="#333333" stroke-width="0.2" text-anchor="middle">23</text>
<text x="307.14" y="402.46" font-size="8.3" fill="#333333" stroke="#333333" stroke-width="0.2" text-anchor="middle">24</text>
<text x="318.96" y="402.46" font-size="8.3" fill="#333333" stroke="#333333" stroke-width="0.2" text-anchor="middle">25</text>
<text x="330.77" y="402.46" font-size="8.3" fill="#333333" stroke="#333333" stroke-width="0.2" text-anchor="middle">26</text>
<text x="342.59" y="402.46" font-size="8.3" fill="#333333" stroke="#333333" stroke-width="0.2" text-anchor="middle">27</text>
<text x="354.4" y="402.46" font-size="8.3" fill="#333333" stroke="#333333" stroke-width="0.2" text-anchor="middle">28</text>
<rect x="96.7" y="223.7" width="4.7" height="4.3" fill="#4F81BD"/>
<rect x="96.7" y="246.4" width="4.7" height="4.3" fill="#C0504D"/>
<text x="103.63" y="229" font-size="10.2" fill="#1a1a1a" stroke="#1a1a1a" stroke-width="0.25" textLength="126.6" lengthAdjust="spacingAndGlyphs">Local SAR without implant</text>
<text x="103.63" y="251.7" font-size="10.2" fill="#1a1a1a" stroke="#1a1a1a" stroke-width="0.25" textLength="111.1" lengthAdjust="spacingAndGlyphs">Local SAR with implant</text>
<path d="M33.71 378.64V377.57M32.91 377.57h1.6M37.09 354.16V350.31M36.29 350.31h1.6M45.52 378.12V377.05M44.72 377.05h1.6M48.91 330.41V324.85M48.11 324.85h1.6M57.34 376.92V375.86M56.54 375.86h1.6M60.72 321.21V314.79M59.92 314.79h1.6M69.15 376.92V375.86M68.35 375.86h1.6M72.54 335.97V330.41M71.74 330.41h1.6M80.97 376.41V375.34M80.17 375.34h1.6M84.35 340.9V336.06M83.55 336.06h1.6M92.78 376.41V375.34M91.98 375.34h1.6M96.17 343.04V338.33M95.37 338.33h1.6M104.6 376.07V375M103.8 375h1.6M107.98 351.81V348.17M107.18 348.17h1.6M116.41 375.9V374.83M115.61 374.83h1.6M119.8 354.72V351.29M119 351.29h1.6M128.23 375.56V374.49M127.43 374.49h1.6M131.61 358.18V355.19M130.81 355.19h1.6M140.04 375.56V374.49M139.24 374.49h1.6M143.43 361.01V358.23M142.63 358.23h1.6M151.86 375.56V374.49M151.06 374.49h1.6M155.24 363.15V360.58M154.44 360.58h1.6M163.67 375.56V374.49M162.87 374.49h1.6M167.06 364.64V362.5M166.26 362.5h1.6M175.49 375.56V374.49M174.69 374.49h1.6M178.87 366.87V364.73M178.07 364.73h1.6M187.3 375.56V374.49M186.5 374.49h1.6M190.69 366.87V364.73M189.89 364.73h1.6M199.12 375.56V374.49M198.32 374.49h1.6M202.5 363.15V360.58M201.7 360.58h1.6M210.93 375.56V374.49M210.13 374.49h1.6M214.32 364.86V362.5M213.52 362.5h1.6M222.75 375.56V374.49M221.95 374.49h1.6M226.13 366.36V364.22M225.33 364.22h1.6M234.56 375.56V374.49M233.76 374.49h1.6M237.95 361.65V359.08M237.15 359.08h1.6M246.38 375.9V374.83M245.58 374.83h1.6M249.76 354.72V351.29M248.96 351.29h1.6M258.19 375.9V374.83M257.39 374.83h1.6M261.58 347.31V343.04M260.78 343.04h1.6M270.01 375.9V374.83M269.21 374.83h1.6M273.39 343.04V338.33M272.59 338.33h1.6M281.82 375.9V374.83M281.02 374.83h1.6M285.21 329.94V324.38M284.41 324.38h1.6M293.64 375.9V374.83M292.84 374.83h1.6M297.02 310.94V303.24M296.22 303.24h1.6M305.45 375.9V374.83M304.65 374.83h1.6M308.84 295.97V286.98M308.04 286.98h1.6M317.27 375.9V374.83M316.47 374.83h1.6M320.65 280.13V270.08M319.85 270.08h1.6M329.08 376.41V375.34M328.28 375.34h1.6M332.47 302.38V294.43M331.67 294.43h1.6M340.9 376.92V375.86M340.1 375.86h1.6M344.28 305.81V298.11M343.48 298.11h1.6M352.71 378.98V377.91M351.91 377.91h1.6M356.1 313.94V306.49M355.3 306.49h1.6" stroke="#A0A0A0" stroke-width="0.7" fill="none"/>
<path d="M32.02 390.96h3.38v-12.32h-3.38zM43.83 390.96h3.38v-12.84h-3.38zM55.65 390.96h3.38v-14.04h-3.38zM67.46 390.96h3.38v-14.04h-3.38zM79.28 390.96h3.38v-14.55h-3.38zM91.09 390.96h3.38v-14.55h-3.38zM102.91 390.96h3.38v-14.89h-3.38zM114.72 390.96h3.38v-15.06h-3.38zM126.54 390.96h3.38v-15.4h-3.38zM138.35 390.96h3.38v-15.4h-3.38zM150.17 390.96h3.38v-15.4h-3.38zM161.98 390.96h3.38v-15.4h-3.38zM173.8 390.96h3.38v-15.4h-3.38zM185.61 390.96h3.38v-15.4h-3.38zM197.43 390.96h3.38v-15.4h-3.38zM209.24 390.96h3.38v-15.4h-3.38zM221.06 390.96h3.38v-15.4h-3.38zM232.87 390.96h3.38v-15.4h-3.38zM244.69 390.96h3.38v-15.06h-3.38zM256.5 390.96h3.38v-15.06h-3.38zM268.32 390.96h3.38v-15.06h-3.38zM280.13 390.96h3.38v-15.06h-3.38zM291.95 390.96h3.38v-15.06h-3.38zM303.76 390.96h3.38v-15.06h-3.38zM315.58 390.96h3.38v-15.06h-3.38zM327.39 390.96h3.38v-14.55h-3.38zM339.21 390.96h3.38v-14.04h-3.38zM351.02 390.96h3.38v-11.98h-3.38z" fill="#4F81BD"/>
<path d="M35.4 390.96h3.38v-36.8h-3.38zM47.22 390.96h3.38v-60.55h-3.38zM59.03 390.96h3.38v-69.75h-3.38zM70.84 390.96h3.38v-54.99h-3.38zM82.66 390.96h3.38v-50.06h-3.38zM94.47 390.96h3.38v-47.92h-3.38zM106.29 390.96h3.38v-39.15h-3.38zM118.1 390.96h3.38v-36.24h-3.38zM129.92 390.96h3.38v-32.78h-3.38zM141.73 390.96h3.38v-29.95h-3.38zM153.55 390.96h3.38v-27.81h-3.38zM165.37 390.96h3.38v-26.32h-3.38zM177.18 390.96h3.38v-24.09h-3.38zM189 390.96h3.38v-24.09h-3.38zM200.81 390.96h3.38v-27.81h-3.38zM212.62 390.96h3.38v-26.1h-3.38zM224.44 390.96h3.38v-24.6h-3.38zM236.25 390.96h3.38v-29.31h-3.38zM248.07 390.96h3.38v-36.24h-3.38zM259.88 390.96h3.38v-43.65h-3.38zM271.7 390.96h3.38v-47.92h-3.38zM283.51 390.96h3.38v-61.02h-3.38zM295.33 390.96h3.38v-80.02h-3.38zM307.14 390.96h3.38v-94.99h-3.38zM318.96 390.96h3.38v-110.83h-3.38zM330.77 390.96h3.38v-88.58h-3.38zM342.59 390.96h3.38v-85.15h-3.38zM354.4 390.96h3.38v-77.02h-3.38z" fill="#C0504D"/>
<text x="366.7" y="212.8" font-size="13" fill="#000">D</text>
<text x="390.78" y="393.8" font-size="8.3" fill="#333333" stroke="#333333" stroke-width="0.2" text-anchor="end">0</text>
<line x1="394.28" y1="391.3" x2="396.78" y2="391.3" stroke="#D9D9D9" stroke-width="0.8"/>
<text x="390.78" y="372.43" font-size="8.3" fill="#333333" stroke="#333333" stroke-width="0.2" text-anchor="end">5</text>
<line x1="394.28" y1="369.93" x2="396.78" y2="369.93" stroke="#D9D9D9" stroke-width="0.8"/>
<text x="390.78" y="351.05" font-size="8.3" fill="#333333" stroke="#333333" stroke-width="0.2" text-anchor="end">10</text>
<line x1="394.28" y1="348.55" x2="396.78" y2="348.55" stroke="#D9D9D9" stroke-width="0.8"/>
<text x="390.78" y="329.68" font-size="8.3" fill="#333333" stroke="#333333" stroke-width="0.2" text-anchor="end">15</text>
<line x1="394.28" y1="327.18" x2="396.78" y2="327.18" stroke="#D9D9D9" stroke-width="0.8"/>
<text x="390.78" y="308.3" font-size="8.3" fill="#333333" stroke="#333333" stroke-width="0.2" text-anchor="end">20</text>
<line x1="394.28" y1="305.8" x2="396.78" y2="305.8" stroke="#D9D9D9" stroke-width="0.8"/>
<text x="390.78" y="286.93" font-size="8.3" fill="#333333" stroke="#333333" stroke-width="0.2" text-anchor="end">25</text>
<line x1="394.28" y1="284.43" x2="396.78" y2="284.43" stroke="#D9D9D9" stroke-width="0.8"/>
<text x="390.78" y="265.55" font-size="8.3" fill="#333333" stroke="#333333" stroke-width="0.2" text-anchor="end">30</text>
<line x1="394.28" y1="263.05" x2="396.78" y2="263.05" stroke="#D9D9D9" stroke-width="0.8"/>
<text x="390.78" y="244.18" font-size="8.3" fill="#333333" stroke="#333333" stroke-width="0.2" text-anchor="end">35</text>
<line x1="394.28" y1="241.68" x2="396.78" y2="241.68" stroke="#D9D9D9" stroke-width="0.8"/>
<text x="390.78" y="222.8" font-size="8.3" fill="#333333" stroke="#333333" stroke-width="0.2" text-anchor="end">40</text>
<line x1="394.28" y1="220.3" x2="396.78" y2="220.3" stroke="#D9D9D9" stroke-width="0.8"/>
<line x1="396.78" y1="218.8" x2="396.78" y2="391.3" stroke="#D9D9D9" stroke-width="1"/>
<line x1="396.78" y1="391.3" x2="728.11" y2="391.3" stroke="#D9D9D9" stroke-width="1"/>
<line x1="396.78" y1="391.3" x2="396.78" y2="393.8" stroke="#D9D9D9" stroke-width="0.8"/>
<line x1="408.62" y1="391.3" x2="408.62" y2="393.8" stroke="#D9D9D9" stroke-width="0.8"/>
<line x1="420.45" y1="391.3" x2="420.45" y2="393.8" stroke="#D9D9D9" stroke-width="0.8"/>
<line x1="432.28" y1="391.3" x2="432.28" y2="393.8" stroke="#D9D9D9" stroke-width="0.8"/>
<line x1="444.12" y1="391.3" x2="444.12" y2="393.8" stroke="#D9D9D9" stroke-width="0.8"/>
<line x1="455.95" y1="391.3" x2="455.95" y2="393.8" stroke="#D9D9D9" stroke-width="0.8"/>
<line x1="467.78" y1="391.3" x2="467.78" y2="393.8" stroke="#D9D9D9" stroke-width="0.8"/>
<line x1="479.61" y1="391.3" x2="479.61" y2="393.8" stroke="#D9D9D9" stroke-width="0.8"/>
<line x1="491.45" y1="391.3" x2="491.45" y2="393.8" stroke="#D9D9D9" stroke-width="0.8"/>
<line x1="503.28" y1="391.3" x2="503.28" y2="393.8" stroke="#D9D9D9" stroke-width="0.8"/>
<line x1="515.11" y1="391.3" x2="515.11" y2="393.8" stroke="#D9D9D9" stroke-width="0.8"/>
<line x1="526.95" y1="391.3" x2="526.95" y2="393.8" stroke="#D9D9D9" stroke-width="0.8"/>
<line x1="538.78" y1="391.3" x2="538.78" y2="393.8" stroke="#D9D9D9" stroke-width="0.8"/>
<line x1="550.61" y1="391.3" x2="550.61" y2="393.8" stroke="#D9D9D9" stroke-width="0.8"/>
<line x1="562.45" y1="391.3" x2="562.45" y2="393.8" stroke="#D9D9D9" stroke-width="0.8"/>
<line x1="574.28" y1="391.3" x2="574.28" y2="393.8" stroke="#D9D9D9" stroke-width="0.8"/>
<line x1="586.11" y1="391.3" x2="586.11" y2="393.8" stroke="#D9D9D9" stroke-width="0.8"/>
<line x1="597.94" y1="391.3" x2="597.94" y2="393.8" stroke="#D9D9D9" stroke-width="0.8"/>
<line x1="609.78" y1="391.3" x2="609.78" y2="393.8" stroke="#D9D9D9" stroke-width="0.8"/>
<line x1="621.61" y1="391.3" x2="621.61" y2="393.8" stroke="#D9D9D9" stroke-width="0.8"/>
<line x1="633.44" y1="391.3" x2="633.44" y2="393.8" stroke="#D9D9D9" stroke-width="0.8"/>
<line x1="645.28" y1="391.3" x2="645.28" y2="393.8" stroke="#D9D9D9" stroke-width="0.8"/>
<line x1="657.11" y1="391.3" x2="657.11" y2="393.8" stroke="#D9D9D9" stroke-width="0.8"/>
<line x1="668.94" y1="391.3" x2="668.94" y2="393.8" stroke="#D9D9D9" stroke-width="0.8"/>
<line x1="680.78" y1="391.3" x2="680.78" y2="393.8" stroke="#D9D9D9" stroke-width="0.8"/>
<line x1="692.61" y1="391.3" x2="692.61" y2="393.8" stroke="#D9D9D9" stroke-width="0.8"/>
<line x1="704.44" y1="391.3" x2="704.44" y2="393.8" stroke="#D9D9D9" stroke-width="0.8"/>
<line x1="716.27" y1="391.3" x2="716.27" y2="393.8" stroke="#D9D9D9" stroke-width="0.8"/>
<line x1="728.11" y1="391.3" x2="728.11" y2="393.8" stroke="#D9D9D9" stroke-width="0.8"/>
<text transform="translate(376.6,305.3) rotate(-90)" font-size="10.5" fill="#1a1a1a" stroke="#1a1a1a" stroke-width="0.25" text-anchor="middle" textLength="56.3" lengthAdjust="spacingAndGlyphs">SAR (W/kg)</text>
<text x="455.8" y="415.1" font-size="10.2" fill="#1a1a1a" stroke="#1a1a1a" stroke-width="0.25" textLength="213.14" lengthAdjust="spacingAndGlyphs">Location of fiber–optic temperature sensors</text>
<text x="402.7" y="402.8" font-size="8.3" fill="#333333" stroke="#333333" stroke-width="0.2" text-anchor="middle">1</text>
<text x="414.53" y="402.8" font-size="8.3" fill="#333333" stroke="#333333" stroke-width="0.2" text-anchor="middle">2</text>
<text x="426.37" y="402.8" font-size="8.3" fill="#333333" stroke="#333333" stroke-width="0.2" text-anchor="middle">3</text>
<text x="438.2" y="402.8" font-size="8.3" fill="#333333" stroke="#333333" stroke-width="0.2" text-anchor="middle">4</text>
<text x="450.03" y="402.8" font-size="8.3" fill="#333333" stroke="#333333" stroke-width="0.2" text-anchor="middle">5</text>
<text x="461.87" y="402.8" font-size="8.3" fill="#333333" stroke="#333333" stroke-width="0.2" text-anchor="middle">6</text>
<text x="473.7" y="402.8" font-size="8.3" fill="#333333" stroke="#333333" stroke-width="0.2" text-anchor="middle">7</text>
<text x="485.53" y="402.8" font-size="8.3" fill="#333333" stroke="#333333" stroke-width="0.2" text-anchor="middle">8</text>
<text x="497.36" y="402.8" font-size="8.3" fill="#333333" stroke="#333333" stroke-width="0.2" text-anchor="middle">9</text>
<text x="509.2" y="402.8" font-size="8.3" fill="#333333" stroke="#333333" stroke-width="0.2" text-anchor="middle">10</text>
<text x="521.03" y="402.8" font-size="8.3" fill="#333333" stroke="#333333" stroke-width="0.2" text-anchor="middle">11</text>
<text x="532.86" y="402.8" font-size="8.3" fill="#333333" stroke="#333333" stroke-width="0.2" text-anchor="middle">12</text>
<text x="544.7" y="402.8" font-size="8.3" fill="#333333" stroke="#333333" stroke-width="0.2" text-anchor="middle">13</text>
<text x="556.53" y="402.8" font-size="8.3" fill="#333333" stroke="#333333" stroke-width="0.2" text-anchor="middle">14</text>
<text x="568.36" y="402.8" font-size="8.3" fill="#333333" stroke="#333333" stroke-width="0.2" text-anchor="middle">15</text>
<text x="580.19" y="402.8" font-size="8.3" fill="#333333" stroke="#333333" stroke-width="0.2" text-anchor="middle">16</text>
<text x="592.03" y="402.8" font-size="8.3" fill="#333333" stroke="#333333" stroke-width="0.2" text-anchor="middle">17</text>
<text x="603.86" y="402.8" font-size="8.3" fill="#333333" stroke="#333333" stroke-width="0.2" text-anchor="middle">18</text>
<text x="615.69" y="402.8" font-size="8.3" fill="#333333" stroke="#333333" stroke-width="0.2" text-anchor="middle">19</text>
<text x="627.53" y="402.8" font-size="8.3" fill="#333333" stroke="#333333" stroke-width="0.2" text-anchor="middle">20</text>
<text x="639.36" y="402.8" font-size="8.3" fill="#333333" stroke="#333333" stroke-width="0.2" text-anchor="middle">21</text>
<text x="651.19" y="402.8" font-size="8.3" fill="#333333" stroke="#333333" stroke-width="0.2" text-anchor="middle">22</text>
<text x="663.03" y="402.8" font-size="8.3" fill="#333333" stroke="#333333" stroke-width="0.2" text-anchor="middle">23</text>
<text x="674.86" y="402.8" font-size="8.3" fill="#333333" stroke="#333333" stroke-width="0.2" text-anchor="middle">24</text>
<text x="686.69" y="402.8" font-size="8.3" fill="#333333" stroke="#333333" stroke-width="0.2" text-anchor="middle">25</text>
<text x="698.53" y="402.8" font-size="8.3" fill="#333333" stroke="#333333" stroke-width="0.2" text-anchor="middle">26</text>
<text x="710.36" y="402.8" font-size="8.3" fill="#333333" stroke="#333333" stroke-width="0.2" text-anchor="middle">27</text>
<text x="722.19" y="402.8" font-size="8.3" fill="#333333" stroke="#333333" stroke-width="0.2" text-anchor="middle">28</text>
<rect x="464" y="224.2" width="4.7" height="4.3" fill="#4F81BD"/>
<rect x="464" y="247" width="4.7" height="4.3" fill="#C0504D"/>
<text x="470.93" y="229.5" font-size="10.2" fill="#1a1a1a" stroke="#1a1a1a" stroke-width="0.25" textLength="126.6" lengthAdjust="spacingAndGlyphs">Local SAR without implant</text>
<text x="470.93" y="252.3" font-size="10.2" fill="#1a1a1a" stroke="#1a1a1a" stroke-width="0.25" textLength="111.1" lengthAdjust="spacingAndGlyphs">Local SAR with implant</text>
<path d="M401.01 378.99V377.92M400.21 377.92h1.6M404.39 360.78V357.36M403.59 357.36h1.6M412.84 378.65V377.58M412.04 377.58h1.6M416.22 334.01V328.46M415.42 328.46h1.6M424.67 377.28V376.21M423.87 376.21h1.6M428.06 316.19V309.09M427.26 309.09h1.6M436.51 377.28V376.21M435.71 376.21h1.6M439.89 325.89V319.91M439.09 319.91h1.6M448.34 376.89V375.82M447.54 375.82h1.6M451.72 334.87V329.74M450.92 329.74h1.6M460.17 376.55V375.48M459.37 375.48h1.6M463.56 351.54V347.69M462.76 347.69h1.6M472.01 376.55V375.48M471.21 375.48h1.6M475.39 358.17V354.75M474.59 354.75h1.6M483.84 376.04V374.97M483.04 374.97h1.6M487.22 366.08V363.08M486.42 363.08h1.6M495.67 375.91V374.84M494.87 374.84h1.6M499.06 360.78V357.78M498.26 357.78h1.6M507.51 375.91V374.84M506.71 374.84h1.6M510.89 362.53V359.75M510.09 359.75h1.6M519.34 375.91V374.84M518.54 374.84h1.6M522.72 366.5V364.15M521.92 364.15h1.6M531.17 375.91V374.84M530.37 374.84h1.6M534.55 366.16V363.81M533.75 363.81h1.6M543 375.91V374.84M542.2 374.84h1.6M546.39 367.36V365.22M545.59 365.22h1.6M554.84 375.91V374.84M554.04 374.84h1.6M558.22 361.38V358.6M557.42 358.6h1.6M566.67 375.91V374.84M565.87 374.84h1.6M570.05 364.37V361.8M569.25 361.8h1.6M578.5 375.91V374.84M577.7 374.84h1.6M581.89 366.16V363.81M581.09 363.81h1.6M590.34 375.91V374.84M589.54 374.84h1.6M593.72 366.5V364.15M592.92 364.15h1.6M602.17 375.91V374.84M601.37 374.84h1.6M605.55 358.51V355.52M604.75 355.52h1.6M614 376.34V375.27M613.2 375.27h1.6M617.39 355.56V352.35M616.59 352.35h1.6M625.84 376.34V375.27M625.04 375.27h1.6M629.22 350.05V346.41M628.42 346.41h1.6M637.67 376.34V375.27M636.87 375.27h1.6M641.05 343.85V339.36M640.25 339.36h1.6M649.5 376.34V375.27M648.7 375.27h1.6M652.88 334.44V329.31M652.08 329.31h1.6M661.33 376.34V375.27M660.53 375.27h1.6M664.72 315.63V308.37M663.92 308.37h1.6M673.17 376.34V375.27M672.37 375.27h1.6M676.55 296.61V288.06M675.75 288.06h1.6M685 376.89V375.82M684.2 375.82h1.6M688.38 286.99V277.59M687.58 277.59h1.6M696.83 377.28V376.21M696.03 376.21h1.6M700.22 306.23V298.53M699.42 298.53h1.6M708.67 377.79V376.72M707.87 376.72h1.6M712.05 325.25V319.27M711.25 319.27h1.6M720.5 379.84V378.77M719.7 378.77h1.6M723.88 334.44V329.31M723.08 329.31h1.6" stroke="#A0A0A0" stroke-width="0.7" fill="none"/>
<path d="M399.32 391.3h3.38v-12.31h-3.38zM411.15 391.3h3.38v-12.65h-3.38zM422.98 391.3h3.38v-14.02h-3.38zM434.82 391.3h3.38v-14.02h-3.38zM446.65 391.3h3.38v-14.41h-3.38zM458.48 391.3h3.38v-14.75h-3.38zM470.32 391.3h3.38v-14.75h-3.38zM482.15 391.3h3.38v-15.26h-3.38zM493.98 391.3h3.38v-15.39h-3.38zM505.81 391.3h3.38v-15.39h-3.38zM517.65 391.3h3.38v-15.39h-3.38zM529.48 391.3h3.38v-15.39h-3.38zM541.31 391.3h3.38v-15.39h-3.38zM553.15 391.3h3.38v-15.39h-3.38zM564.98 391.3h3.38v-15.39h-3.38zM576.81 391.3h3.38v-15.39h-3.38zM588.65 391.3h3.38v-15.39h-3.38zM600.48 391.3h3.38v-15.39h-3.38zM612.31 391.3h3.38v-14.96h-3.38zM624.14 391.3h3.38v-14.96h-3.38zM635.98 391.3h3.38v-14.96h-3.38zM647.81 391.3h3.38v-14.96h-3.38zM659.64 391.3h3.38v-14.96h-3.38zM671.48 391.3h3.38v-14.96h-3.38zM683.31 391.3h3.38v-14.41h-3.38zM695.14 391.3h3.38v-14.02h-3.38zM706.98 391.3h3.38v-13.51h-3.38zM718.81 391.3h3.38v-11.46h-3.38z" fill="#4F81BD"/>
<path d="M402.7 391.3h3.38v-30.52h-3.38zM414.53 391.3h3.38v-57.29h-3.38zM426.37 391.3h3.38v-75.11h-3.38zM438.2 391.3h3.38v-65.41h-3.38zM450.03 391.3h3.38v-56.43h-3.38zM461.87 391.3h3.38v-39.76h-3.38zM473.7 391.3h3.38v-33.13h-3.38zM485.53 391.3h3.38v-25.22h-3.38zM497.36 391.3h3.38v-30.52h-3.38zM509.2 391.3h3.38v-28.77h-3.38zM521.03 391.3h3.38v-24.8h-3.38zM532.86 391.3h3.38v-25.14h-3.38zM544.7 391.3h3.38v-23.94h-3.38zM556.53 391.3h3.38v-29.93h-3.38zM568.36 391.3h3.38v-26.93h-3.38zM580.19 391.3h3.38v-25.14h-3.38zM592.03 391.3h3.38v-24.8h-3.38zM603.86 391.3h3.38v-32.79h-3.38zM615.69 391.3h3.38v-35.74h-3.38zM627.53 391.3h3.38v-41.25h-3.38zM639.36 391.3h3.38v-47.45h-3.38zM651.19 391.3h3.38v-56.86h-3.38zM663.03 391.3h3.38v-75.67h-3.38zM674.86 391.3h3.38v-94.69h-3.38zM686.69 391.3h3.38v-104.31h-3.38zM698.53 391.3h3.38v-85.07h-3.38zM710.36 391.3h3.38v-66.05h-3.38zM722.19 391.3h3.38v-56.86h-3.38z" fill="#C0504D"/>
<text x="3.7" y="418.9" font-size="13" fill="#000">E</text>
<text x="23.29" y="599.77" font-size="8.3" fill="#333333" stroke="#333333" stroke-width="0.2" text-anchor="end">0</text>
<line x1="26.79" y1="597.27" x2="29.29" y2="597.27" stroke="#D9D9D9" stroke-width="0.8"/>
<text x="23.29" y="578.35" font-size="8.3" fill="#333333" stroke="#333333" stroke-width="0.2" text-anchor="end">5</text>
<line x1="26.79" y1="575.85" x2="29.29" y2="575.85" stroke="#D9D9D9" stroke-width="0.8"/>
<text x="23.29" y="556.93" font-size="8.3" fill="#333333" stroke="#333333" stroke-width="0.2" text-anchor="end">10</text>
<line x1="26.79" y1="554.43" x2="29.29" y2="554.43" stroke="#D9D9D9" stroke-width="0.8"/>
<text x="23.29" y="535.51" font-size="8.3" fill="#333333" stroke="#333333" stroke-width="0.2" text-anchor="end">15</text>
<line x1="26.79" y1="533.01" x2="29.29" y2="533.01" stroke="#D9D9D9" stroke-width="0.8"/>
<text x="23.29" y="514.09" font-size="8.3" fill="#333333" stroke="#333333" stroke-width="0.2" text-anchor="end">20</text>
<line x1="26.79" y1="511.58" x2="29.29" y2="511.58" stroke="#D9D9D9" stroke-width="0.8"/>
<text x="23.29" y="492.66" font-size="8.3" fill="#333333" stroke="#333333" stroke-width="0.2" text-anchor="end">25</text>
<line x1="26.79" y1="490.16" x2="29.29" y2="490.16" stroke="#D9D9D9" stroke-width="0.8"/>
<text x="23.29" y="471.24" font-size="8.3" fill="#333333" stroke="#333333" stroke-width="0.2" text-anchor="end">30</text>
<line x1="26.79" y1="468.74" x2="29.29" y2="468.74" stroke="#D9D9D9" stroke-width="0.8"/>
<text x="23.29" y="449.82" font-size="8.3" fill="#333333" stroke="#333333" stroke-width="0.2" text-anchor="end">35</text>
<line x1="26.79" y1="447.32" x2="29.29" y2="447.32" stroke="#D9D9D9" stroke-width="0.8"/>
<text x="23.29" y="428.4" font-size="8.3" fill="#333333" stroke="#333333" stroke-width="0.2" text-anchor="end">40</text>
<line x1="26.79" y1="425.9" x2="29.29" y2="425.9" stroke="#D9D9D9" stroke-width="0.8"/>
<line x1="29.29" y1="424.4" x2="29.29" y2="597.27" stroke="#D9D9D9" stroke-width="1"/>
<line x1="29.29" y1="597.27" x2="360.25" y2="597.27" stroke="#D9D9D9" stroke-width="1"/>
<line x1="29.29" y1="597.27" x2="29.29" y2="599.77" stroke="#D9D9D9" stroke-width="0.8"/>
<line x1="41.11" y1="597.27" x2="41.11" y2="599.77" stroke="#D9D9D9" stroke-width="0.8"/>
<line x1="52.93" y1="597.27" x2="52.93" y2="599.77" stroke="#D9D9D9" stroke-width="0.8"/>
<line x1="64.75" y1="597.27" x2="64.75" y2="599.77" stroke="#D9D9D9" stroke-width="0.8"/>
<line x1="76.57" y1="597.27" x2="76.57" y2="599.77" stroke="#D9D9D9" stroke-width="0.8"/>
<line x1="88.39" y1="597.27" x2="88.39" y2="599.77" stroke="#D9D9D9" stroke-width="0.8"/>
<line x1="100.21" y1="597.27" x2="100.21" y2="599.77" stroke="#D9D9D9" stroke-width="0.8"/>
<line x1="112.03" y1="597.27" x2="112.03" y2="599.77" stroke="#D9D9D9" stroke-width="0.8"/>
<line x1="123.85" y1="597.27" x2="123.85" y2="599.77" stroke="#D9D9D9" stroke-width="0.8"/>
<line x1="135.67" y1="597.27" x2="135.67" y2="599.77" stroke="#D9D9D9" stroke-width="0.8"/>
<line x1="147.49" y1="597.27" x2="147.49" y2="599.77" stroke="#D9D9D9" stroke-width="0.8"/>
<line x1="159.31" y1="597.27" x2="159.31" y2="599.77" stroke="#D9D9D9" stroke-width="0.8"/>
<line x1="171.13" y1="597.27" x2="171.13" y2="599.77" stroke="#D9D9D9" stroke-width="0.8"/>
<line x1="182.95" y1="597.27" x2="182.95" y2="599.77" stroke="#D9D9D9" stroke-width="0.8"/>
<line x1="194.77" y1="597.27" x2="194.77" y2="599.77" stroke="#D9D9D9" stroke-width="0.8"/>
<line x1="206.59" y1="597.27" x2="206.59" y2="599.77" stroke="#D9D9D9" stroke-width="0.8"/>
<line x1="218.41" y1="597.27" x2="218.41" y2="599.77" stroke="#D9D9D9" stroke-width="0.8"/>
<line x1="230.23" y1="597.27" x2="230.23" y2="599.77" stroke="#D9D9D9" stroke-width="0.8"/>
<line x1="242.05" y1="597.27" x2="242.05" y2="599.77" stroke="#D9D9D9" stroke-width="0.8"/>
<line x1="253.87" y1="597.27" x2="253.87" y2="599.77" stroke="#D9D9D9" stroke-width="0.8"/>
<line x1="265.69" y1="597.27" x2="265.69" y2="599.77" stroke="#D9D9D9" stroke-width="0.8"/>
<line x1="277.51" y1="597.27" x2="277.51" y2="599.77" stroke="#D9D9D9" stroke-width="0.8"/>
<line x1="289.33" y1="597.27" x2="289.33" y2="599.77" stroke="#D9D9D9" stroke-width="0.8"/>
<line x1="301.15" y1="597.27" x2="301.15" y2="599.77" stroke="#D9D9D9" stroke-width="0.8"/>
<line x1="312.97" y1="597.27" x2="312.97" y2="599.77" stroke="#D9D9D9" stroke-width="0.8"/>
<line x1="324.79" y1="597.27" x2="324.79" y2="599.77" stroke="#D9D9D9" stroke-width="0.8"/>
<line x1="336.61" y1="597.27" x2="336.61" y2="599.77" stroke="#D9D9D9" stroke-width="0.8"/>
<line x1="348.43" y1="597.27" x2="348.43" y2="599.77" stroke="#D9D9D9" stroke-width="0.8"/>
<line x1="360.25" y1="597.27" x2="360.25" y2="599.77" stroke="#D9D9D9" stroke-width="0.8"/>
<text transform="translate(8.8,511.08) rotate(-90)" font-size="10.5" fill="#1a1a1a" stroke="#1a1a1a" stroke-width="0.25" text-anchor="middle" textLength="56.3" lengthAdjust="spacingAndGlyphs">SAR (W/kg)</text>
<text x="88.6" y="621.3" font-size="10.2" fill="#1a1a1a" stroke="#1a1a1a" stroke-width="0.25" textLength="213.14" lengthAdjust="spacingAndGlyphs">Location of fiber–optic temperature sensors</text>
<text x="35.2" y="608.77" font-size="8.3" fill="#333333" stroke="#333333" stroke-width="0.2" text-anchor="middle">1</text>
<text x="47.02" y="608.77" font-size="8.3" fill="#333333" stroke="#333333" stroke-width="0.2" text-anchor="middle">2</text>
<text x="58.84" y="608.77" font-size="8.3" fill="#333333" stroke="#333333" stroke-width="0.2" text-anchor="middle">3</text>
<text x="70.66" y="608.77" font-size="8.3" fill="#333333" stroke="#333333" stroke-width="0.2" text-anchor="middle">4</text>
<text x="82.48" y="608.77" font-size="8.3" fill="#333333" stroke="#333333" stroke-width="0.2" text-anchor="middle">5</text>
<text x="94.3" y="608.77" font-size="8.3" fill="#333333" stroke="#333333" stroke-width="0.2" text-anchor="middle">6</text>
<text x="106.12" y="608.77" font-size="8.3" fill="#333333" stroke="#333333" stroke-width="0.2" text-anchor="middle">7</text>
<text x="117.94" y="608.77" font-size="8.3" fill="#333333" stroke="#333333" stroke-width="0.2" text-anchor="middle">8</text>
<text x="129.76" y="608.77" font-size="8.3" fill="#333333" stroke="#333333" stroke-width="0.2" text-anchor="middle">9</text>
<text x="141.58" y="608.77" font-size="8.3" fill="#333333" stroke="#333333" stroke-width="0.2" text-anchor="middle">10</text>
<text x="153.4" y="608.77" font-size="8.3" fill="#333333" stroke="#333333" stroke-width="0.2" text-anchor="middle">11</text>
<text x="165.22" y="608.77" font-size="8.3" fill="#333333" stroke="#333333" stroke-width="0.2" text-anchor="middle">12</text>
<text x="177.04" y="608.77" font-size="8.3" fill="#333333" stroke="#333333" stroke-width="0.2" text-anchor="middle">13</text>
<text x="188.86" y="608.77" font-size="8.3" fill="#333333" stroke="#333333" stroke-width="0.2" text-anchor="middle">14</text>
<text x="200.68" y="608.77" font-size="8.3" fill="#333333" stroke="#333333" stroke-width="0.2" text-anchor="middle">15</text>
<text x="212.5" y="608.77" font-size="8.3" fill="#333333" stroke="#333333" stroke-width="0.2" text-anchor="middle">16</text>
<text x="224.32" y="608.77" font-size="8.3" fill="#333333" stroke="#333333" stroke-width="0.2" text-anchor="middle">17</text>
<text x="236.14" y="608.77" font-size="8.3" fill="#333333" stroke="#333333" stroke-width="0.2" text-anchor="middle">18</text>
<text x="247.96" y="608.77" font-size="8.3" fill="#333333" stroke="#333333" stroke-width="0.2" text-anchor="middle">19</text>
<text x="259.78" y="608.77" font-size="8.3" fill="#333333" stroke="#333333" stroke-width="0.2" text-anchor="middle">20</text>
<text x="271.6" y="608.77" font-size="8.3" fill="#333333" stroke="#333333" stroke-width="0.2" text-anchor="middle">21</text>
<text x="283.42" y="608.77" font-size="8.3" fill="#333333" stroke="#333333" stroke-width="0.2" text-anchor="middle">22</text>
<text x="295.24" y="608.77" font-size="8.3" fill="#333333" stroke="#333333" stroke-width="0.2" text-anchor="middle">23</text>
<text x="307.06" y="608.77" font-size="8.3" fill="#333333" stroke="#333333" stroke-width="0.2" text-anchor="middle">24</text>
<text x="318.88" y="608.77" font-size="8.3" fill="#333333" stroke="#333333" stroke-width="0.2" text-anchor="middle">25</text>
<text x="330.7" y="608.77" font-size="8.3" fill="#333333" stroke="#333333" stroke-width="0.2" text-anchor="middle">26</text>
<text x="342.52" y="608.77" font-size="8.3" fill="#333333" stroke="#333333" stroke-width="0.2" text-anchor="middle">27</text>
<text x="354.34" y="608.77" font-size="8.3" fill="#333333" stroke="#333333" stroke-width="0.2" text-anchor="middle">28</text>
<rect x="97.4" y="430.3" width="4.7" height="4.3" fill="#4F81BD"/>
<rect x="97.4" y="452.5" width="4.7" height="4.3" fill="#C0504D"/>
<text x="104.33" y="435.6" font-size="10.2" fill="#1a1a1a" stroke="#1a1a1a" stroke-width="0.25" textLength="126.6" lengthAdjust="spacingAndGlyphs">Local SAR without implant</text>
<text x="104.33" y="457.8" font-size="10.2" fill="#1a1a1a" stroke="#1a1a1a" stroke-width="0.25" textLength="111.1" lengthAdjust="spacingAndGlyphs">Local SAR with implant</text>
<path d="M33.51 580.78V579.7M32.71 579.7h1.6M36.89 548.73V544.45M36.09 544.45h1.6M45.33 580.43V579.36M44.53 579.36h1.6M48.71 495.73V486.52M47.91 486.52h1.6M57.15 580.43V579.36M56.35 579.36h1.6M60.53 461.46V449.03M59.73 449.03h1.6M68.97 579.92V578.85M68.17 578.85h1.6M72.35 475.17V464.24M71.55 464.24h1.6M80.79 579.92V578.85M79.99 578.85h1.6M84.17 512.01V504.04M83.37 504.04h1.6M92.61 579.4V578.33M91.81 578.33h1.6M95.99 542.65V537.5M95.19 537.5h1.6M104.43 579.06V577.99M103.63 577.99h1.6M107.81 550.14V545.64M107.01 545.64h1.6M116.25 579.06V577.99M115.45 577.99h1.6M119.63 561.2V557.34M118.83 557.34h1.6M128.07 578.72V577.65M127.27 577.65h1.6M131.45 566.55V563.98M130.65 563.98h1.6M139.89 578.72V577.65M139.09 577.65h1.6M143.27 567.28V564.71M142.47 564.71h1.6M151.71 578.72V577.65M150.91 577.65h1.6M155.09 567.79V565.22M154.29 565.22h1.6M163.53 578.72V577.65M162.73 577.65h1.6M166.91 567.79V565.22M166.11 565.22h1.6M175.35 578.72V577.65M174.55 577.65h1.6M178.73 568.14V565.57M177.93 565.57h1.6M187.17 578.72V577.65M186.37 577.65h1.6M190.55 567.45V564.88M189.75 564.88h1.6M198.99 578.72V577.65M198.19 577.65h1.6M202.37 566.42V563.85M201.57 563.85h1.6M210.81 578.72V577.65M210.01 577.65h1.6M214.19 566.55V563.98M213.39 563.98h1.6M222.63 578.72V577.65M221.83 577.65h1.6M226.01 565.99V563.42M225.21 563.42h1.6M234.45 578.72V577.65M233.65 577.65h1.6M237.83 564.84V562.27M237.03 562.27h1.6M246.27 579.06V577.99M245.47 577.99h1.6M249.65 563.85V560.55M248.85 560.55h1.6M258.09 579.06V577.99M257.29 577.99h1.6M261.47 562.22V559.1M260.67 559.1h1.6M269.91 579.06V577.99M269.11 577.99h1.6M273.29 543.16V538.02M272.49 538.02h1.6M281.73 579.4V578.33M280.93 578.33h1.6M285.11 525.29V518.44M284.31 518.44h1.6M293.55 579.4V578.33M292.75 578.33h1.6M296.93 507.43V499.29M296.13 499.29h1.6M305.37 579.4V578.33M304.57 578.33h1.6M308.75 489.31V479.45M307.95 479.45h1.6M317.19 579.92V578.85M316.39 578.85h1.6M320.57 463.6V451.61M319.77 451.61h1.6M329.01 579.92V578.85M328.21 578.85h1.6M332.39 489.31V479.45M331.59 479.45h1.6M340.83 579.92V578.85M340.03 578.85h1.6M344.21 509.87V501.73M343.41 501.73h1.6M352.65 580.43V579.36M351.85 579.36h1.6M356.03 528.72V522.3M355.23 522.3h1.6" stroke="#A0A0A0" stroke-width="0.7" fill="none"/>
<path d="M31.82 597.27h3.38v-16.49h-3.38zM43.64 597.27h3.38v-16.84h-3.38zM55.46 597.27h3.38v-16.84h-3.38zM67.28 597.27h3.38v-17.35h-3.38zM79.1 597.27h3.38v-17.35h-3.38zM90.92 597.27h3.38v-17.87h-3.38zM102.74 597.27h3.38v-18.21h-3.38zM114.56 597.27h3.38v-18.21h-3.38zM126.38 597.27h3.38v-18.55h-3.38zM138.2 597.27h3.38v-18.55h-3.38zM150.02 597.27h3.38v-18.55h-3.38zM161.84 597.27h3.38v-18.55h-3.38zM173.66 597.27h3.38v-18.55h-3.38zM185.48 597.27h3.38v-18.55h-3.38zM197.3 597.27h3.38v-18.55h-3.38zM209.12 597.27h3.38v-18.55h-3.38zM220.94 597.27h3.38v-18.55h-3.38zM232.76 597.27h3.38v-18.55h-3.38zM244.58 597.27h3.38v-18.21h-3.38zM256.4 597.27h3.38v-18.21h-3.38zM268.22 597.27h3.38v-18.21h-3.38zM280.04 597.27h3.38v-17.87h-3.38zM291.86 597.27h3.38v-17.87h-3.38zM303.68 597.27h3.38v-17.87h-3.38zM315.5 597.27h3.38v-17.35h-3.38zM327.32 597.27h3.38v-17.35h-3.38zM339.14 597.27h3.38v-17.35h-3.38zM350.96 597.27h3.38v-16.84h-3.38z" fill="#4F81BD"/>
<path d="M35.2 597.27h3.38v-48.54h-3.38zM47.02 597.27h3.38v-101.54h-3.38zM58.84 597.27h3.38v-135.81h-3.38zM70.66 597.27h3.38v-122.1h-3.38zM82.48 597.27h3.38v-85.26h-3.38zM94.3 597.27h3.38v-54.62h-3.38zM106.12 597.27h3.38v-47.13h-3.38zM117.94 597.27h3.38v-36.07h-3.38zM129.76 597.27h3.38v-30.72h-3.38zM141.58 597.27h3.38v-29.99h-3.38zM153.4 597.27h3.38v-29.48h-3.38zM165.22 597.27h3.38v-29.48h-3.38zM177.04 597.27h3.38v-29.13h-3.38zM188.86 597.27h3.38v-29.82h-3.38zM200.68 597.27h3.38v-30.85h-3.38zM212.5 597.27h3.38v-30.72h-3.38zM224.32 597.27h3.38v-31.28h-3.38zM236.14 597.27h3.38v-32.43h-3.38zM247.96 597.27h3.38v-33.42h-3.38zM259.78 597.27h3.38v-35.05h-3.38zM271.6 597.27h3.38v-54.11h-3.38zM283.42 597.27h3.38v-71.98h-3.38zM295.24 597.27h3.38v-89.84h-3.38zM307.06 597.27h3.38v-107.96h-3.38zM318.88 597.27h3.38v-133.67h-3.38zM330.7 597.27h3.38v-107.96h-3.38zM342.52 597.27h3.38v-87.4h-3.38zM354.34 597.27h3.38v-68.55h-3.38z" fill="#C0504D"/>
<text x="367" y="419.8" font-size="13" fill="#000">F</text>
<text x="390.78" y="599.07" font-size="8.3" fill="#333333" stroke="#333333" stroke-width="0.2" text-anchor="end">0</text>
<line x1="394.28" y1="596.57" x2="396.78" y2="596.57" stroke="#D9D9D9" stroke-width="0.8"/>
<text x="390.78" y="577.7" font-size="8.3" fill="#333333" stroke="#333333" stroke-width="0.2" text-anchor="end">5</text>
<line x1="394.28" y1="575.2" x2="396.78" y2="575.2" stroke="#D9D9D9" stroke-width="0.8"/>
<text x="390.78" y="556.33" font-size="8.3" fill="#333333" stroke="#333333" stroke-width="0.2" text-anchor="end">10</text>
<line x1="394.28" y1="553.83" x2="396.78" y2="553.83" stroke="#D9D9D9" stroke-width="0.8"/>
<text x="390.78" y="534.96" font-size="8.3" fill="#333333" stroke="#333333" stroke-width="0.2" text-anchor="end">15</text>
<line x1="394.28" y1="532.46" x2="396.78" y2="532.46" stroke="#D9D9D9" stroke-width="0.8"/>
<text x="390.78" y="513.59" font-size="8.3" fill="#333333" stroke="#333333" stroke-width="0.2" text-anchor="end">20</text>
<line x1="394.28" y1="511.09" x2="396.78" y2="511.09" stroke="#D9D9D9" stroke-width="0.8"/>
<text x="390.78" y="492.21" font-size="8.3" fill="#333333" stroke="#333333" stroke-width="0.2" text-anchor="end">25</text>
<line x1="394.28" y1="489.71" x2="396.78" y2="489.71" stroke="#D9D9D9" stroke-width="0.8"/>
<text x="390.78" y="470.84" font-size="8.3" fill="#333333" stroke="#333333" stroke-width="0.2" text-anchor="end">30</text>
<line x1="394.28" y1="468.34" x2="396.78" y2="468.34" stroke="#D9D9D9" stroke-width="0.8"/>
<text x="390.78" y="449.47" font-size="8.3" fill="#333333" stroke="#333333" stroke-width="0.2" text-anchor="end">35</text>
<line x1="394.28" y1="446.97" x2="396.78" y2="446.97" stroke="#D9D9D9" stroke-width="0.8"/>
<text x="390.78" y="428.1" font-size="8.3" fill="#333333" stroke="#333333" stroke-width="0.2" text-anchor="end">40</text>
<line x1="394.28" y1="425.6" x2="396.78" y2="425.6" stroke="#D9D9D9" stroke-width="0.8"/>
<line x1="396.78" y1="424.1" x2="396.78" y2="596.57" stroke="#D9D9D9" stroke-width="1"/>
<line x1="396.78" y1="596.57" x2="728.11" y2="596.57" stroke="#D9D9D9" stroke-width="1"/>
<line x1="396.78" y1="596.57" x2="396.78" y2="599.07" stroke="#D9D9D9" stroke-width="0.8"/>
<line x1="408.62" y1="596.57" x2="408.62" y2="599.07" stroke="#D9D9D9" stroke-width="0.8"/>
<line x1="420.45" y1="596.57" x2="420.45" y2="599.07" stroke="#D9D9D9" stroke-width="0.8"/>
<line x1="432.28" y1="596.57" x2="432.28" y2="599.07" stroke="#D9D9D9" stroke-width="0.8"/>
<line x1="444.12" y1="596.57" x2="444.12" y2="599.07" stroke="#D9D9D9" stroke-width="0.8"/>
<line x1="455.95" y1="596.57" x2="455.95" y2="599.07" stroke="#D9D9D9" stroke-width="0.8"/>
<line x1="467.78" y1="596.57" x2="467.78" y2="599.07" stroke="#D9D9D9" stroke-width="0.8"/>
<line x1="479.61" y1="596.57" x2="479.61" y2="599.07" stroke="#D9D9D9" stroke-width="0.8"/>
<line x1="491.45" y1="596.57" x2="491.45" y2="599.07" stroke="#D9D9D9" stroke-width="0.8"/>
<line x1="503.28" y1="596.57" x2="503.28" y2="599.07" stroke="#D9D9D9" stroke-width="0.8"/>
<line x1="515.11" y1="596.57" x2="515.11" y2="599.07" stroke="#D9D9D9" stroke-width="0.8"/>
<line x1="526.95" y1="596.57" x2="526.95" y2="599.07" stroke="#D9D9D9" stroke-width="0.8"/>
<line x1="538.78" y1="596.57" x2="538.78" y2="599.07" stroke="#D9D9D9" stroke-width="0.8"/>
<line x1="550.61" y1="596.57" x2="550.61" y2="599.07" stroke="#D9D9D9" stroke-width="0.8"/>
<line x1="562.45" y1="596.57" x2="562.45" y2="599.07" stroke="#D9D9D9" stroke-width="0.8"/>
<line x1="574.28" y1="596.57" x2="574.28" y2="599.07" stroke="#D9D9D9" stroke-width="0.8"/>
<line x1="586.11" y1="596.57" x2="586.11" y2="599.07" stroke="#D9D9D9" stroke-width="0.8"/>
<line x1="597.94" y1="596.57" x2="597.94" y2="599.07" stroke="#D9D9D9" stroke-width="0.8"/>
<line x1="609.78" y1="596.57" x2="609.78" y2="599.07" stroke="#D9D9D9" stroke-width="0.8"/>
<line x1="621.61" y1="596.57" x2="621.61" y2="599.07" stroke="#D9D9D9" stroke-width="0.8"/>
<line x1="633.44" y1="596.57" x2="633.44" y2="599.07" stroke="#D9D9D9" stroke-width="0.8"/>
<line x1="645.28" y1="596.57" x2="645.28" y2="599.07" stroke="#D9D9D9" stroke-width="0.8"/>
<line x1="657.11" y1="596.57" x2="657.11" y2="599.07" stroke="#D9D9D9" stroke-width="0.8"/>
<line x1="668.94" y1="596.57" x2="668.94" y2="599.07" stroke="#D9D9D9" stroke-width="0.8"/>
<line x1="680.78" y1="596.57" x2="680.78" y2="599.07" stroke="#D9D9D9" stroke-width="0.8"/>
<line x1="692.61" y1="596.57" x2="692.61" y2="599.07" stroke="#D9D9D9" stroke-width="0.8"/>
<line x1="704.44" y1="596.57" x2="704.44" y2="599.07" stroke="#D9D9D9" stroke-width="0.8"/>
<line x1="716.27" y1="596.57" x2="716.27" y2="599.07" stroke="#D9D9D9" stroke-width="0.8"/>
<line x1="728.11" y1="596.57" x2="728.11" y2="599.07" stroke="#D9D9D9" stroke-width="0.8"/>
<text transform="translate(376.6,510.59) rotate(-90)" font-size="10.5" fill="#1a1a1a" stroke="#1a1a1a" stroke-width="0.25" text-anchor="middle" textLength="56.3" lengthAdjust="spacingAndGlyphs">SAR (W/kg)</text>
<text x="456" y="620.5" font-size="10.2" fill="#1a1a1a" stroke="#1a1a1a" stroke-width="0.25" textLength="213.14" lengthAdjust="spacingAndGlyphs">Location of fiber–optic temperature sensors</text>
<text x="402.7" y="608.07" font-size="8.3" fill="#333333" stroke="#333333" stroke-width="0.2" text-anchor="middle">1</text>
<text x="414.53" y="608.07" font-size="8.3" fill="#333333" stroke="#333333" stroke-width="0.2" text-anchor="middle">2</text>
<text x="426.37" y="608.07" font-size="8.3" fill="#333333" stroke="#333333" stroke-width="0.2" text-anchor="middle">3</text>
<text x="438.2" y="608.07" font-size="8.3" fill="#333333" stroke="#333333" stroke-width="0.2" text-anchor="middle">4</text>
<text x="450.03" y="608.07" font-size="8.3" fill="#333333" stroke="#333333" stroke-width="0.2" text-anchor="middle">5</text>
<text x="461.87" y="608.07" font-size="8.3" fill="#333333" stroke="#333333" stroke-width="0.2" text-anchor="middle">6</text>
<text x="473.7" y="608.07" font-size="8.3" fill="#333333" stroke="#333333" stroke-width="0.2" text-anchor="middle">7</text>
<text x="485.53" y="608.07" font-size="8.3" fill="#333333" stroke="#333333" stroke-width="0.2" text-anchor="middle">8</text>
<text x="497.36" y="608.07" font-size="8.3" fill="#333333" stroke="#333333" stroke-width="0.2" text-anchor="middle">9</text>
<text x="509.2" y="608.07" font-size="8.3" fill="#333333" stroke="#333333" stroke-width="0.2" text-anchor="middle">10</text>
<text x="521.03" y="608.07" font-size="8.3" fill="#333333" stroke="#333333" stroke-width="0.2" text-anchor="middle">11</text>
<text x="532.86" y="608.07" font-size="8.3" fill="#333333" stroke="#333333" stroke-width="0.2" text-anchor="middle">12</text>
<text x="544.7" y="608.07" font-size="8.3" fill="#333333" stroke="#333333" stroke-width="0.2" text-anchor="middle">13</text>
<text x="556.53" y="608.07" font-size="8.3" fill="#333333" stroke="#333333" stroke-width="0.2" text-anchor="middle">14</text>
<text x="568.36" y="608.07" font-size="8.3" fill="#333333" stroke="#333333" stroke-width="0.2" text-anchor="middle">15</text>
<text x="580.19" y="608.07" font-size="8.3" fill="#333333" stroke="#333333" stroke-width="0.2" text-anchor="middle">16</text>
<text x="592.03" y="608.07" font-size="8.3" fill="#333333" stroke="#333333" stroke-width="0.2" text-anchor="middle">17</text>
<text x="603.86" y="608.07" font-size="8.3" fill="#333333" stroke="#333333" stroke-width="0.2" text-anchor="middle">18</text>
<text x="615.69" y="608.07" font-size="8.3" fill="#333333" stroke="#333333" stroke-width="0.2" text-anchor="middle">19</text>
<text x="627.53" y="608.07" font-size="8.3" fill="#333333" stroke="#333333" stroke-width="0.2" text-anchor="middle">20</text>
<text x="639.36" y="608.07" font-size="8.3" fill="#333333" stroke="#333333" stroke-width="0.2" text-anchor="middle">21</text>
<text x="651.19" y="608.07" font-size="8.3" fill="#333333" stroke="#333333" stroke-width="0.2" text-anchor="middle">22</text>
<text x="663.03" y="608.07" font-size="8.3" fill="#333333" stroke="#333333" stroke-width="0.2" text-anchor="middle">23</text>
<text x="674.86" y="608.07" font-size="8.3" fill="#333333" stroke="#333333" stroke-width="0.2" text-anchor="middle">24</text>
<text x="686.69" y="608.07" font-size="8.3" fill="#333333" stroke="#333333" stroke-width="0.2" text-anchor="middle">25</text>
<text x="698.53" y="608.07" font-size="8.3" fill="#333333" stroke="#333333" stroke-width="0.2" text-anchor="middle">26</text>
<text x="710.36" y="608.07" font-size="8.3" fill="#333333" stroke="#333333" stroke-width="0.2" text-anchor="middle">27</text>
<text x="722.19" y="608.07" font-size="8.3" fill="#333333" stroke="#333333" stroke-width="0.2" text-anchor="middle">28</text>
<rect x="465.1" y="429.6" width="4.7" height="4.3" fill="#4F81BD"/>
<rect x="465.1" y="451.9" width="4.7" height="4.3" fill="#C0504D"/>
<text x="472.03" y="434.9" font-size="10.2" fill="#1a1a1a" stroke="#1a1a1a" stroke-width="0.25" textLength="126.6" lengthAdjust="spacingAndGlyphs">Local SAR without implant</text>
<text x="472.03" y="457.2" font-size="10.2" fill="#1a1a1a" stroke="#1a1a1a" stroke-width="0.25" textLength="111.1" lengthAdjust="spacingAndGlyphs">Local SAR with implant</text>
<path d="M401.01 579.9V578.83M400.21 578.83h1.6M404.39 557.89V554.47M403.59 554.47h1.6M412.84 579.56V578.49M412.04 578.49h1.6M416.22 502.75V493.77M415.42 493.77h1.6M424.67 579.56V578.49M423.87 578.49h1.6M428.06 467.49V455.95M427.26 455.95h1.6M436.51 579.05V577.98M435.71 577.98h1.6M439.89 505.53V497.41M439.09 497.41h1.6M448.34 579.05V577.98M447.54 577.98h1.6M451.72 520.62V513.52M450.92 513.52h1.6M460.17 578.7V577.64M459.37 577.64h1.6M463.56 555.67V551.69M462.76 551.69h1.6M472.01 578.19V577.12M471.21 577.12h1.6M475.39 560.5V557.08M474.59 557.08h1.6M483.84 577.85V576.78M483.04 576.78h1.6M487.22 563.1V559.98M486.42 559.98h1.6M495.67 577.85V576.78M494.87 576.78h1.6M499.06 560.84V557.85M498.26 557.85h1.6M507.51 577.85V576.78M506.71 576.78h1.6M510.89 563.1V560.11M510.09 560.11h1.6M519.34 577.85V576.78M518.54 576.78h1.6M522.72 564.3V561.52M521.92 561.52h1.6M531.17 577.85V576.78M530.37 576.78h1.6M534.55 559.13V555.92M533.75 555.92h1.6M543 577.85V576.78M542.2 576.78h1.6M546.39 561.73V558.74M545.59 558.74h1.6M554.84 577.85V576.78M554.04 576.78h1.6M558.22 566.65V564.09M557.42 564.09h1.6M566.67 577.85V576.78M565.87 576.78h1.6M570.05 567.51V564.94M569.25 564.94h1.6M578.5 577.85V576.78M577.7 576.78h1.6M581.89 564.86V562.08M581.09 562.08h1.6M590.34 577.85V576.78M589.54 576.78h1.6M593.72 559.98V556.78M592.92 556.78h1.6M602.17 577.85V576.78M601.37 576.78h1.6M605.55 561.73V558.74M604.75 558.74h1.6M614 578.19V577.12M613.2 577.12h1.6M617.39 563.1V560.32M616.59 560.32h1.6M625.84 578.19V577.12M625.04 577.12h1.6M629.22 559.98V556.56M628.42 556.56h1.6M637.67 578.19V577.12M636.87 577.12h1.6M641.05 555.32V551.69M640.25 551.69h1.6M649.5 578.7V577.64M648.7 577.64h1.6M652.88 525.32V518.91M652.08 518.91h1.6M661.33 578.7V577.64M660.53 577.64h1.6M664.72 518.35V511.08M663.92 511.08h1.6M673.17 578.7V577.64M672.37 577.64h1.6M676.55 499.97V491.42M675.75 491.42h1.6M685 578.7V577.64M684.2 577.64h1.6M688.38 470.48V458.68M687.58 458.68h1.6M696.83 579.05V577.98M696.03 577.98h1.6M700.22 495.27V486.29M699.42 486.29h1.6M708.67 579.05V577.98M707.87 577.98h1.6M712.05 504.67V496.13M711.25 496.13h1.6M720.5 579.56V578.49M719.7 578.49h1.6M723.88 529.04V523.05M723.08 523.05h1.6" stroke="#A0A0A0" stroke-width="0.7" fill="none"/>
<path d="M399.32 596.57h3.38v-16.67h-3.38zM411.15 596.57h3.38v-17.01h-3.38zM422.98 596.57h3.38v-17.01h-3.38zM434.82 596.57h3.38v-17.52h-3.38zM446.65 596.57h3.38v-17.52h-3.38zM458.48 596.57h3.38v-17.87h-3.38zM470.32 596.57h3.38v-18.38h-3.38zM482.15 596.57h3.38v-18.72h-3.38zM493.98 596.57h3.38v-18.72h-3.38zM505.81 596.57h3.38v-18.72h-3.38zM517.65 596.57h3.38v-18.72h-3.38zM529.48 596.57h3.38v-18.72h-3.38zM541.31 596.57h3.38v-18.72h-3.38zM553.15 596.57h3.38v-18.72h-3.38zM564.98 596.57h3.38v-18.72h-3.38zM576.81 596.57h3.38v-18.72h-3.38zM588.65 596.57h3.38v-18.72h-3.38zM600.48 596.57h3.38v-18.72h-3.38zM612.31 596.57h3.38v-18.38h-3.38zM624.14 596.57h3.38v-18.38h-3.38zM635.98 596.57h3.38v-18.38h-3.38zM647.81 596.57h3.38v-17.87h-3.38zM659.64 596.57h3.38v-17.87h-3.38zM671.48 596.57h3.38v-17.87h-3.38zM683.31 596.57h3.38v-17.87h-3.38zM695.14 596.57h3.38v-17.52h-3.38zM706.98 596.57h3.38v-17.52h-3.38zM718.81 596.57h3.38v-17.01h-3.38z" fill="#4F81BD"/>
<path d="M402.7 596.57h3.38v-38.68h-3.38zM414.53 596.57h3.38v-93.82h-3.38zM426.37 596.57h3.38v-129.08h-3.38zM438.2 596.57h3.38v-91.04h-3.38zM450.03 596.57h3.38v-75.95h-3.38zM461.87 596.57h3.38v-40.9h-3.38zM473.7 596.57h3.38v-36.07h-3.38zM485.53 596.57h3.38v-33.47h-3.38zM497.36 596.57h3.38v-35.73h-3.38zM509.2 596.57h3.38v-33.47h-3.38zM521.03 596.57h3.38v-32.27h-3.38zM532.86 596.57h3.38v-37.44h-3.38zM544.7 596.57h3.38v-34.84h-3.38zM556.53 596.57h3.38v-29.92h-3.38zM568.36 596.57h3.38v-29.06h-3.38zM580.19 596.57h3.38v-31.71h-3.38zM592.03 596.57h3.38v-36.59h-3.38zM603.86 596.57h3.38v-34.84h-3.38zM615.69 596.57h3.38v-33.47h-3.38zM627.53 596.57h3.38v-36.59h-3.38zM639.36 596.57h3.38v-41.25h-3.38zM651.19 596.57h3.38v-71.25h-3.38zM663.03 596.57h3.38v-78.22h-3.38zM674.86 596.57h3.38v-96.6h-3.38zM686.69 596.57h3.38v-126.09h-3.38zM698.53 596.57h3.38v-101.3h-3.38zM710.36 596.57h3.38v-91.9h-3.38zM722.19 596.57h3.38v-67.53h-3.38z" fill="#C0504D"/>
<text x="3.67" y="622" font-size="13" fill="#000">G</text>
<text x="22.87" y="806.63" font-size="8.3" fill="#333333" stroke="#333333" stroke-width="0.2" text-anchor="end">0</text>
<line x1="26.37" y1="804.13" x2="28.87" y2="804.13" stroke="#D9D9D9" stroke-width="0.8"/>
<text x="22.87" y="785.18" font-size="8.3" fill="#333333" stroke="#333333" stroke-width="0.2" text-anchor="end">5</text>
<line x1="26.37" y1="782.68" x2="28.87" y2="782.68" stroke="#D9D9D9" stroke-width="0.8"/>
<text x="22.87" y="763.72" font-size="8.3" fill="#333333" stroke="#333333" stroke-width="0.2" text-anchor="end">10</text>
<line x1="26.37" y1="761.22" x2="28.87" y2="761.22" stroke="#D9D9D9" stroke-width="0.8"/>
<text x="22.87" y="742.27" font-size="8.3" fill="#333333" stroke="#333333" stroke-width="0.2" text-anchor="end">15</text>
<line x1="26.37" y1="739.77" x2="28.87" y2="739.77" stroke="#D9D9D9" stroke-width="0.8"/>
<text x="22.87" y="720.82" font-size="8.3" fill="#333333" stroke="#333333" stroke-width="0.2" text-anchor="end">20</text>
<line x1="26.37" y1="718.32" x2="28.87" y2="718.32" stroke="#D9D9D9" stroke-width="0.8"/>
<text x="22.87" y="699.36" font-size="8.3" fill="#333333" stroke="#333333" stroke-width="0.2" text-anchor="end">25</text>
<line x1="26.37" y1="696.86" x2="28.87" y2="696.86" stroke="#D9D9D9" stroke-width="0.8"/>
<text x="22.87" y="677.91" font-size="8.3" fill="#333333" stroke="#333333" stroke-width="0.2" text-anchor="end">30</text>
<line x1="26.37" y1="675.41" x2="28.87" y2="675.41" stroke="#D9D9D9" stroke-width="0.8"/>
<text x="22.87" y="656.45" font-size="8.3" fill="#333333" stroke="#333333" stroke-width="0.2" text-anchor="end">35</text>
<line x1="26.37" y1="653.95" x2="28.87" y2="653.95" stroke="#D9D9D9" stroke-width="0.8"/>
<text x="22.87" y="635" font-size="8.3" fill="#333333" stroke="#333333" stroke-width="0.2" text-anchor="end">40</text>
<line x1="26.37" y1="632.5" x2="28.87" y2="632.5" stroke="#D9D9D9" stroke-width="0.8"/>
<line x1="28.87" y1="631" x2="28.87" y2="804.13" stroke="#D9D9D9" stroke-width="1"/>
<line x1="28.87" y1="804.13" x2="361.14" y2="804.13" stroke="#D9D9D9" stroke-width="1"/>
<line x1="28.87" y1="804.13" x2="28.87" y2="806.63" stroke="#D9D9D9" stroke-width="0.8"/>
<line x1="40.73" y1="804.13" x2="40.73" y2="806.63" stroke="#D9D9D9" stroke-width="0.8"/>
<line x1="52.6" y1="804.13" x2="52.6" y2="806.63" stroke="#D9D9D9" stroke-width="0.8"/>
<line x1="64.47" y1="804.13" x2="64.47" y2="806.63" stroke="#D9D9D9" stroke-width="0.8"/>
<line x1="76.33" y1="804.13" x2="76.33" y2="806.63" stroke="#D9D9D9" stroke-width="0.8"/>
<line x1="88.2" y1="804.13" x2="88.2" y2="806.63" stroke="#D9D9D9" stroke-width="0.8"/>
<line x1="100.07" y1="804.13" x2="100.07" y2="806.63" stroke="#D9D9D9" stroke-width="0.8"/>
<line x1="111.94" y1="804.13" x2="111.94" y2="806.63" stroke="#D9D9D9" stroke-width="0.8"/>
<line x1="123.8" y1="804.13" x2="123.8" y2="806.63" stroke="#D9D9D9" stroke-width="0.8"/>
<line x1="135.67" y1="804.13" x2="135.67" y2="806.63" stroke="#D9D9D9" stroke-width="0.8"/>
<line x1="147.54" y1="804.13" x2="147.54" y2="806.63" stroke="#D9D9D9" stroke-width="0.8"/>
<line x1="159.4" y1="804.13" x2="159.4" y2="806.63" stroke="#D9D9D9" stroke-width="0.8"/>
<line x1="171.27" y1="804.13" x2="171.27" y2="806.63" stroke="#D9D9D9" stroke-width="0.8"/>
<line x1="183.14" y1="804.13" x2="183.14" y2="806.63" stroke="#D9D9D9" stroke-width="0.8"/>
<line x1="195" y1="804.13" x2="195" y2="806.63" stroke="#D9D9D9" stroke-width="0.8"/>
<line x1="206.87" y1="804.13" x2="206.87" y2="806.63" stroke="#D9D9D9" stroke-width="0.8"/>
<line x1="218.74" y1="804.13" x2="218.74" y2="806.63" stroke="#D9D9D9" stroke-width="0.8"/>
<line x1="230.61" y1="804.13" x2="230.61" y2="806.63" stroke="#D9D9D9" stroke-width="0.8"/>
<line x1="242.47" y1="804.13" x2="242.47" y2="806.63" stroke="#D9D9D9" stroke-width="0.8"/>
<line x1="254.34" y1="804.13" x2="254.34" y2="806.63" stroke="#D9D9D9" stroke-width="0.8"/>
<line x1="266.21" y1="804.13" x2="266.21" y2="806.63" stroke="#D9D9D9" stroke-width="0.8"/>
<line x1="278.07" y1="804.13" x2="278.07" y2="806.63" stroke="#D9D9D9" stroke-width="0.8"/>
<line x1="289.94" y1="804.13" x2="289.94" y2="806.63" stroke="#D9D9D9" stroke-width="0.8"/>
<line x1="301.81" y1="804.13" x2="301.81" y2="806.63" stroke="#D9D9D9" stroke-width="0.8"/>
<line x1="313.67" y1="804.13" x2="313.67" y2="806.63" stroke="#D9D9D9" stroke-width="0.8"/>
<line x1="325.54" y1="804.13" x2="325.54" y2="806.63" stroke="#D9D9D9" stroke-width="0.8"/>
<line x1="337.41" y1="804.13" x2="337.41" y2="806.63" stroke="#D9D9D9" stroke-width="0.8"/>
<line x1="349.28" y1="804.13" x2="349.28" y2="806.63" stroke="#D9D9D9" stroke-width="0.8"/>
<line x1="361.14" y1="804.13" x2="361.14" y2="806.63" stroke="#D9D9D9" stroke-width="0.8"/>
<text transform="translate(8.8,717.82) rotate(-90)" font-size="10.5" fill="#1a1a1a" stroke="#1a1a1a" stroke-width="0.25" text-anchor="middle" textLength="56.3" lengthAdjust="spacingAndGlyphs">SAR (W/kg)</text>
<text x="88.1" y="828.3" font-size="10.2" fill="#1a1a1a" stroke="#1a1a1a" stroke-width="0.25" textLength="213.14" lengthAdjust="spacingAndGlyphs">Location of fiber–optic temperature sensors</text>
<text x="34.8" y="815.63" font-size="8.3" fill="#333333" stroke="#333333" stroke-width="0.2" text-anchor="middle">1</text>
<text x="46.67" y="815.63" font-size="8.3" fill="#333333" stroke="#333333" stroke-width="0.2" text-anchor="middle">2</text>
<text x="58.53" y="815.63" font-size="8.3" fill="#333333" stroke="#333333" stroke-width="0.2" text-anchor="middle">3</text>
<text x="70.4" y="815.63" font-size="8.3" fill="#333333" stroke="#333333" stroke-width="0.2" text-anchor="middle">4</text>
<text x="82.27" y="815.63" font-size="8.3" fill="#333333" stroke="#333333" stroke-width="0.2" text-anchor="middle">5</text>
<text x="94.13" y="815.63" font-size="8.3" fill="#333333" stroke="#333333" stroke-width="0.2" text-anchor="middle">6</text>
<text x="106" y="815.63" font-size="8.3" fill="#333333" stroke="#333333" stroke-width="0.2" text-anchor="middle">7</text>
<text x="117.87" y="815.63" font-size="8.3" fill="#333333" stroke="#333333" stroke-width="0.2" text-anchor="middle">8</text>
<text x="129.74" y="815.63" font-size="8.3" fill="#333333" stroke="#333333" stroke-width="0.2" text-anchor="middle">9</text>
<text x="141.6" y="815.63" font-size="8.3" fill="#333333" stroke="#333333" stroke-width="0.2" text-anchor="middle">10</text>
<text x="153.47" y="815.63" font-size="8.3" fill="#333333" stroke="#333333" stroke-width="0.2" text-anchor="middle">11</text>
<text x="165.34" y="815.63" font-size="8.3" fill="#333333" stroke="#333333" stroke-width="0.2" text-anchor="middle">12</text>
<text x="177.2" y="815.63" font-size="8.3" fill="#333333" stroke="#333333" stroke-width="0.2" text-anchor="middle">13</text>
<text x="189.07" y="815.63" font-size="8.3" fill="#333333" stroke="#333333" stroke-width="0.2" text-anchor="middle">14</text>
<text x="200.94" y="815.63" font-size="8.3" fill="#333333" stroke="#333333" stroke-width="0.2" text-anchor="middle">15</text>
<text x="212.81" y="815.63" font-size="8.3" fill="#333333" stroke="#333333" stroke-width="0.2" text-anchor="middle">16</text>
<text x="224.67" y="815.63" font-size="8.3" fill="#333333" stroke="#333333" stroke-width="0.2" text-anchor="middle">17</text>
<text x="236.54" y="815.63" font-size="8.3" fill="#333333" stroke="#333333" stroke-width="0.2" text-anchor="middle">18</text>
<text x="248.41" y="815.63" font-size="8.3" fill="#333333" stroke="#333333" stroke-width="0.2" text-anchor="middle">19</text>
<text x="260.27" y="815.63" font-size="8.3" fill="#333333" stroke="#333333" stroke-width="0.2" text-anchor="middle">20</text>
<text x="272.14" y="815.63" font-size="8.3" fill="#333333" stroke="#333333" stroke-width="0.2" text-anchor="middle">21</text>
<text x="284.01" y="815.63" font-size="8.3" fill="#333333" stroke="#333333" stroke-width="0.2" text-anchor="middle">22</text>
<text x="295.87" y="815.63" font-size="8.3" fill="#333333" stroke="#333333" stroke-width="0.2" text-anchor="middle">23</text>
<text x="307.74" y="815.63" font-size="8.3" fill="#333333" stroke="#333333" stroke-width="0.2" text-anchor="middle">24</text>
<text x="319.61" y="815.63" font-size="8.3" fill="#333333" stroke="#333333" stroke-width="0.2" text-anchor="middle">25</text>
<text x="331.48" y="815.63" font-size="8.3" fill="#333333" stroke="#333333" stroke-width="0.2" text-anchor="middle">26</text>
<text x="343.34" y="815.63" font-size="8.3" fill="#333333" stroke="#333333" stroke-width="0.2" text-anchor="middle">27</text>
<text x="355.21" y="815.63" font-size="8.3" fill="#333333" stroke="#333333" stroke-width="0.2" text-anchor="middle">28</text>
<rect x="96.9" y="637" width="4.7" height="4.3" fill="#4F81BD"/>
<rect x="96.9" y="659.6" width="4.7" height="4.3" fill="#C0504D"/>
<text x="103.73" y="642.3" font-size="10.2" fill="#1a1a1a" stroke="#1a1a1a" stroke-width="0.25" textLength="126.6" lengthAdjust="spacingAndGlyphs">Local SAR without implant</text>
<text x="103.73" y="664.9" font-size="10.2" fill="#1a1a1a" stroke="#1a1a1a" stroke-width="0.25" textLength="111.1" lengthAdjust="spacingAndGlyphs">Local SAR with implant</text>
<text x="235.2" y="638.3" font-size="10.8" fill="#1a1a1a" stroke="#1a1a1a" stroke-width="0.25">a</text>
<text x="220.4" y="662.3" font-size="10.8" fill="#1a1a1a" stroke="#1a1a1a" stroke-width="0.25">a</text>
<path d="M33.11 790.83V789.76M32.31 789.76h1.6M36.49 767.23V763.8M35.69 763.8h1.6M44.98 789.54V788.47M44.18 788.47h1.6M48.36 747.49V742.13M47.56 742.13h1.6M56.84 788.51V787.44M56.04 787.44h1.6M60.23 715.31V707.16M59.43 707.16h1.6M68.71 787.65V786.58M67.91 786.58h1.6M72.09 735.91V729.47M71.29 729.47h1.6M80.58 787.14V786.07M79.78 786.07h1.6M83.96 756.93V752.21M83.16 752.21h1.6M92.44 786.28V785.21M91.64 785.21h1.6M95.83 767.66V764.23M95.03 764.23h1.6M104.31 785.94V784.86M103.51 784.86h1.6M107.69 773.79V770.79M106.89 770.79h1.6M116.18 785.59V784.52M115.38 784.52h1.6M119.56 772.59V769.59M118.76 769.59h1.6M128.04 785.59V784.52M127.24 784.52h1.6M131.43 776.03V773.45M130.63 773.45h1.6M139.91 785.08V784.01M139.11 784.01h1.6M143.29 774.65V772.08M142.49 772.08h1.6M151.78 785.08V784.01M150.98 784.01h1.6M155.16 774.09V771.52M154.36 771.52h1.6M163.65 785.08V784.01M162.85 784.01h1.6M167.03 775.17V772.59M166.23 772.59h1.6M175.51 785.08V784.01M174.71 784.01h1.6M178.9 777.27V774.91M178.1 774.91h1.6M187.38 785.08V784.01M186.58 784.01h1.6M190.76 775.17V772.59M189.96 772.59h1.6M199.25 785.59V784.52M198.45 784.52h1.6M202.63 777.27V774.91M201.83 774.91h1.6M211.11 785.59V784.52M210.31 784.52h1.6M214.5 773.24V770.66M213.7 770.66h1.6M222.98 785.59V784.52M222.18 784.52h1.6M226.36 769.12V766.11M225.56 766.11h1.6M234.85 785.59V784.52M234.05 784.52h1.6M238.23 772.08V769.29M237.43 769.29h1.6M246.71 785.94V784.86M245.91 784.86h1.6M250.1 765.94V762.08M249.3 762.08h1.6M258.58 785.94V784.86M257.78 784.86h1.6M261.96 746.63V741.49M261.16 741.49h1.6M270.45 785.94V784.86M269.65 784.86h1.6M273.83 733.93V727.5M273.03 727.5h1.6M282.32 786.28V785.21M281.52 785.21h1.6M285.7 723.89V716.6M284.9 716.6h1.6M294.18 786.28V785.21M293.38 785.21h1.6M297.57 704.16V695.57M296.77 695.57h1.6M306.05 786.28V785.21M305.25 785.21h1.6M309.43 678.84V667.68M308.63 667.68h1.6M317.92 786.45V785.38M317.12 785.38h1.6M321.3 667.68V655.24M320.5 655.24h1.6M329.78 787.31V786.24M328.98 786.24h1.6M333.17 683.99V673.26M332.37 673.26h1.6M341.65 788.51V787.44M340.85 787.44h1.6M345.03 693.17V683.09M344.23 683.09h1.6M353.52 788.85V787.78M352.72 787.78h1.6M356.9 711.88V703.55M356.1 703.55h1.6" stroke="#A0A0A0" stroke-width="0.7" fill="none"/>
<path d="M31.42 804.13h3.38v-13.3h-3.38zM43.28 804.13h3.38v-14.59h-3.38zM55.15 804.13h3.38v-15.62h-3.38zM67.02 804.13h3.38v-16.48h-3.38zM78.89 804.13h3.38v-16.99h-3.38zM90.75 804.13h3.38v-17.85h-3.38zM102.62 804.13h3.38v-18.19h-3.38zM114.49 804.13h3.38v-18.54h-3.38zM126.35 804.13h3.38v-18.54h-3.38zM138.22 804.13h3.38v-19.05h-3.38zM150.09 804.13h3.38v-19.05h-3.38zM161.95 804.13h3.38v-19.05h-3.38zM173.82 804.13h3.38v-19.05h-3.38zM185.69 804.13h3.38v-19.05h-3.38zM197.56 804.13h3.38v-18.54h-3.38zM209.42 804.13h3.38v-18.54h-3.38zM221.29 804.13h3.38v-18.54h-3.38zM233.16 804.13h3.38v-18.54h-3.38zM245.02 804.13h3.38v-18.19h-3.38zM256.89 804.13h3.38v-18.19h-3.38zM268.76 804.13h3.38v-18.19h-3.38zM280.62 804.13h3.38v-17.85h-3.38zM292.49 804.13h3.38v-17.85h-3.38zM304.36 804.13h3.38v-17.85h-3.38zM316.23 804.13h3.38v-17.68h-3.38zM328.09 804.13h3.38v-16.82h-3.38zM339.96 804.13h3.38v-15.62h-3.38zM351.83 804.13h3.38v-15.28h-3.38z" fill="#4F81BD"/>
<path d="M34.8 804.13h3.38v-36.9h-3.38zM46.67 804.13h3.38v-56.64h-3.38zM58.53 804.13h3.38v-88.82h-3.38zM70.4 804.13h3.38v-68.22h-3.38zM82.27 804.13h3.38v-47.2h-3.38zM94.13 804.13h3.38v-36.47h-3.38zM106 804.13h3.38v-30.34h-3.38zM117.87 804.13h3.38v-31.54h-3.38zM129.74 804.13h3.38v-28.1h-3.38zM141.6 804.13h3.38v-29.48h-3.38zM153.47 804.13h3.38v-30.04h-3.38zM165.34 804.13h3.38v-28.96h-3.38zM177.2 804.13h3.38v-26.86h-3.38zM189.07 804.13h3.38v-28.96h-3.38zM200.94 804.13h3.38v-26.86h-3.38zM212.81 804.13h3.38v-30.89h-3.38zM224.67 804.13h3.38v-35.01h-3.38zM236.54 804.13h3.38v-32.05h-3.38zM248.41 804.13h3.38v-38.19h-3.38zM260.27 804.13h3.38v-57.5h-3.38zM272.14 804.13h3.38v-70.2h-3.38zM284.01 804.13h3.38v-80.24h-3.38zM295.87 804.13h3.38v-99.97h-3.38zM307.74 804.13h3.38v-125.29h-3.38zM319.61 804.13h3.38v-136.45h-3.38zM331.48 804.13h3.38v-120.14h-3.38zM343.34 804.13h3.38v-110.96h-3.38zM355.21 804.13h3.38v-92.25h-3.38z" fill="#C0504D"/>
<text x="366.96" y="622" font-size="13" fill="#000">H</text>
<text x="390.88" y="806.63" font-size="8.3" fill="#333333" stroke="#333333" stroke-width="0.2" text-anchor="end">0</text>
<line x1="394.38" y1="804.13" x2="396.88" y2="804.13" stroke="#D9D9D9" stroke-width="0.8"/>
<text x="390.88" y="785.18" font-size="8.3" fill="#333333" stroke="#333333" stroke-width="0.2" text-anchor="end">5</text>
<line x1="394.38" y1="782.68" x2="396.88" y2="782.68" stroke="#D9D9D9" stroke-width="0.8"/>
<text x="390.88" y="763.72" font-size="8.3" fill="#333333" stroke="#333333" stroke-width="0.2" text-anchor="end">10</text>
<line x1="394.38" y1="761.22" x2="396.88" y2="761.22" stroke="#D9D9D9" stroke-width="0.8"/>
<text x="390.88" y="742.27" font-size="8.3" fill="#333333" stroke="#333333" stroke-width="0.2" text-anchor="end">15</text>
<line x1="394.38" y1="739.77" x2="396.88" y2="739.77" stroke="#D9D9D9" stroke-width="0.8"/>
<text x="390.88" y="720.82" font-size="8.3" fill="#333333" stroke="#333333" stroke-width="0.2" text-anchor="end">20</text>
<line x1="394.38" y1="718.32" x2="396.88" y2="718.32" stroke="#D9D9D9" stroke-width="0.8"/>
<text x="390.88" y="699.36" font-size="8.3" fill="#333333" stroke="#333333" stroke-width="0.2" text-anchor="end">25</text>
<line x1="394.38" y1="696.86" x2="396.88" y2="696.86" stroke="#D9D9D9" stroke-width="0.8"/>
<text x="390.88" y="677.91" font-size="8.3" fill="#333333" stroke="#333333" stroke-width="0.2" text-anchor="end">30</text>
<line x1="394.38" y1="675.41" x2="396.88" y2="675.41" stroke="#D9D9D9" stroke-width="0.8"/>
<text x="390.88" y="656.45" font-size="8.3" fill="#333333" stroke="#333333" stroke-width="0.2" text-anchor="end">35</text>
<line x1="394.38" y1="653.95" x2="396.88" y2="653.95" stroke="#D9D9D9" stroke-width="0.8"/>
<text x="390.88" y="635" font-size="8.3" fill="#333333" stroke="#333333" stroke-width="0.2" text-anchor="end">40</text>
<line x1="394.38" y1="632.5" x2="396.88" y2="632.5" stroke="#D9D9D9" stroke-width="0.8"/>
<line x1="396.88" y1="631" x2="396.88" y2="804.13" stroke="#D9D9D9" stroke-width="1"/>
<line x1="396.88" y1="804.13" x2="728.12" y2="804.13" stroke="#D9D9D9" stroke-width="1"/>
<line x1="396.88" y1="804.13" x2="396.88" y2="806.63" stroke="#D9D9D9" stroke-width="0.8"/>
<line x1="408.71" y1="804.13" x2="408.71" y2="806.63" stroke="#D9D9D9" stroke-width="0.8"/>
<line x1="420.55" y1="804.13" x2="420.55" y2="806.63" stroke="#D9D9D9" stroke-width="0.8"/>
<line x1="432.38" y1="804.13" x2="432.38" y2="806.63" stroke="#D9D9D9" stroke-width="0.8"/>
<line x1="444.2" y1="804.13" x2="444.2" y2="806.63" stroke="#D9D9D9" stroke-width="0.8"/>
<line x1="456.03" y1="804.13" x2="456.03" y2="806.63" stroke="#D9D9D9" stroke-width="0.8"/>
<line x1="467.87" y1="804.13" x2="467.87" y2="806.63" stroke="#D9D9D9" stroke-width="0.8"/>
<line x1="479.69" y1="804.13" x2="479.69" y2="806.63" stroke="#D9D9D9" stroke-width="0.8"/>
<line x1="491.52" y1="804.13" x2="491.52" y2="806.63" stroke="#D9D9D9" stroke-width="0.8"/>
<line x1="503.36" y1="804.13" x2="503.36" y2="806.63" stroke="#D9D9D9" stroke-width="0.8"/>
<line x1="515.18" y1="804.13" x2="515.18" y2="806.63" stroke="#D9D9D9" stroke-width="0.8"/>
<line x1="527.01" y1="804.13" x2="527.01" y2="806.63" stroke="#D9D9D9" stroke-width="0.8"/>
<line x1="538.85" y1="804.13" x2="538.85" y2="806.63" stroke="#D9D9D9" stroke-width="0.8"/>
<line x1="550.67" y1="804.13" x2="550.67" y2="806.63" stroke="#D9D9D9" stroke-width="0.8"/>
<line x1="562.5" y1="804.13" x2="562.5" y2="806.63" stroke="#D9D9D9" stroke-width="0.8"/>
<line x1="574.34" y1="804.13" x2="574.34" y2="806.63" stroke="#D9D9D9" stroke-width="0.8"/>
<line x1="586.16" y1="804.13" x2="586.16" y2="806.63" stroke="#D9D9D9" stroke-width="0.8"/>
<line x1="598" y1="804.13" x2="598" y2="806.63" stroke="#D9D9D9" stroke-width="0.8"/>
<line x1="609.83" y1="804.13" x2="609.83" y2="806.63" stroke="#D9D9D9" stroke-width="0.8"/>
<line x1="621.65" y1="804.13" x2="621.65" y2="806.63" stroke="#D9D9D9" stroke-width="0.8"/>
<line x1="633.49" y1="804.13" x2="633.49" y2="806.63" stroke="#D9D9D9" stroke-width="0.8"/>
<line x1="645.32" y1="804.13" x2="645.32" y2="806.63" stroke="#D9D9D9" stroke-width="0.8"/>
<line x1="657.14" y1="804.13" x2="657.14" y2="806.63" stroke="#D9D9D9" stroke-width="0.8"/>
<line x1="668.97" y1="804.13" x2="668.97" y2="806.63" stroke="#D9D9D9" stroke-width="0.8"/>
<line x1="680.81" y1="804.13" x2="680.81" y2="806.63" stroke="#D9D9D9" stroke-width="0.8"/>
<line x1="692.63" y1="804.13" x2="692.63" y2="806.63" stroke="#D9D9D9" stroke-width="0.8"/>
<line x1="704.46" y1="804.13" x2="704.46" y2="806.63" stroke="#D9D9D9" stroke-width="0.8"/>
<line x1="716.3" y1="804.13" x2="716.3" y2="806.63" stroke="#D9D9D9" stroke-width="0.8"/>
<line x1="728.12" y1="804.13" x2="728.12" y2="806.63" stroke="#D9D9D9" stroke-width="0.8"/>
<text transform="translate(376.6,717.82) rotate(-90)" font-size="10.5" fill="#1a1a1a" stroke="#1a1a1a" stroke-width="0.25" text-anchor="middle" textLength="56.3" lengthAdjust="spacingAndGlyphs">SAR (W/kg)</text>
<text x="456" y="827.9" font-size="10.2" fill="#1a1a1a" stroke="#1a1a1a" stroke-width="0.25" textLength="213.14" lengthAdjust="spacingAndGlyphs">Location of fiber–optic temperature sensors</text>
<text x="402.8" y="815.63" font-size="8.3" fill="#333333" stroke="#333333" stroke-width="0.2" text-anchor="middle">1</text>
<text x="414.63" y="815.63" font-size="8.3" fill="#333333" stroke="#333333" stroke-width="0.2" text-anchor="middle">2</text>
<text x="426.46" y="815.63" font-size="8.3" fill="#333333" stroke="#333333" stroke-width="0.2" text-anchor="middle">3</text>
<text x="438.29" y="815.63" font-size="8.3" fill="#333333" stroke="#333333" stroke-width="0.2" text-anchor="middle">4</text>
<text x="450.12" y="815.63" font-size="8.3" fill="#333333" stroke="#333333" stroke-width="0.2" text-anchor="middle">5</text>
<text x="461.95" y="815.63" font-size="8.3" fill="#333333" stroke="#333333" stroke-width="0.2" text-anchor="middle">6</text>
<text x="473.78" y="815.63" font-size="8.3" fill="#333333" stroke="#333333" stroke-width="0.2" text-anchor="middle">7</text>
<text x="485.61" y="815.63" font-size="8.3" fill="#333333" stroke="#333333" stroke-width="0.2" text-anchor="middle">8</text>
<text x="497.44" y="815.63" font-size="8.3" fill="#333333" stroke="#333333" stroke-width="0.2" text-anchor="middle">9</text>
<text x="509.27" y="815.63" font-size="8.3" fill="#333333" stroke="#333333" stroke-width="0.2" text-anchor="middle">10</text>
<text x="521.1" y="815.63" font-size="8.3" fill="#333333" stroke="#333333" stroke-width="0.2" text-anchor="middle">11</text>
<text x="532.93" y="815.63" font-size="8.3" fill="#333333" stroke="#333333" stroke-width="0.2" text-anchor="middle">12</text>
<text x="544.76" y="815.63" font-size="8.3" fill="#333333" stroke="#333333" stroke-width="0.2" text-anchor="middle">13</text>
<text x="556.59" y="815.63" font-size="8.3" fill="#333333" stroke="#333333" stroke-width="0.2" text-anchor="middle">14</text>
<text x="568.42" y="815.63" font-size="8.3" fill="#333333" stroke="#333333" stroke-width="0.2" text-anchor="middle">15</text>
<text x="580.25" y="815.63" font-size="8.3" fill="#333333" stroke="#333333" stroke-width="0.2" text-anchor="middle">16</text>
<text x="592.08" y="815.63" font-size="8.3" fill="#333333" stroke="#333333" stroke-width="0.2" text-anchor="middle">17</text>
<text x="603.91" y="815.63" font-size="8.3" fill="#333333" stroke="#333333" stroke-width="0.2" text-anchor="middle">18</text>
<text x="615.74" y="815.63" font-size="8.3" fill="#333333" stroke="#333333" stroke-width="0.2" text-anchor="middle">19</text>
<text x="627.57" y="815.63" font-size="8.3" fill="#333333" stroke="#333333" stroke-width="0.2" text-anchor="middle">20</text>
<text x="639.4" y="815.63" font-size="8.3" fill="#333333" stroke="#333333" stroke-width="0.2" text-anchor="middle">21</text>
<text x="651.23" y="815.63" font-size="8.3" fill="#333333" stroke="#333333" stroke-width="0.2" text-anchor="middle">22</text>
<text x="663.06" y="815.63" font-size="8.3" fill="#333333" stroke="#333333" stroke-width="0.2" text-anchor="middle">23</text>
<text x="674.89" y="815.63" font-size="8.3" fill="#333333" stroke="#333333" stroke-width="0.2" text-anchor="middle">24</text>
<text x="686.72" y="815.63" font-size="8.3" fill="#333333" stroke="#333333" stroke-width="0.2" text-anchor="middle">25</text>
<text x="698.55" y="815.63" font-size="8.3" fill="#333333" stroke="#333333" stroke-width="0.2" text-anchor="middle">26</text>
<text x="710.38" y="815.63" font-size="8.3" fill="#333333" stroke="#333333" stroke-width="0.2" text-anchor="middle">27</text>
<text x="722.21" y="815.63" font-size="8.3" fill="#333333" stroke="#333333" stroke-width="0.2" text-anchor="middle">28</text>
<rect x="464.9" y="637.3" width="4.7" height="4.3" fill="#4F81BD"/>
<rect x="464.9" y="659.8" width="4.7" height="4.3" fill="#C0504D"/>
<text x="471.83" y="642.6" font-size="10.2" fill="#1a1a1a" stroke="#1a1a1a" stroke-width="0.25" textLength="126.6" lengthAdjust="spacingAndGlyphs">Local SAR without implant</text>
<text x="471.83" y="665.1" font-size="10.2" fill="#1a1a1a" stroke="#1a1a1a" stroke-width="0.25" textLength="111.1" lengthAdjust="spacingAndGlyphs">Local SAR with implant</text>
<text x="603.3" y="638.6" font-size="10.8" fill="#1a1a1a" stroke="#1a1a1a" stroke-width="0.25">a</text>
<text x="588.5" y="662.5" font-size="10.8" fill="#1a1a1a" stroke="#1a1a1a" stroke-width="0.25">a</text>
<path d="M401.11 790.83V789.76M400.31 789.76h1.6M404.49 760.36V756.5M403.69 756.5h1.6M412.94 789.97V788.9M412.14 788.9h1.6M416.32 726.47V719.17M415.52 719.17h1.6M424.77 788.85V787.78M423.97 787.78h1.6M428.15 709.3V700.72M427.35 700.72h1.6M436.6 787.65V786.58M435.8 786.58h1.6M439.98 726.04V719.17M439.18 719.17h1.6M448.43 787.31V786.24M447.63 786.24h1.6M451.81 748.99V743.84M451.01 743.84h1.6M460.26 786.45V785.38M459.46 785.38h1.6M463.64 759.08V754.79M462.84 754.79h1.6M472.09 786.11V785.04M471.29 785.04h1.6M475.47 768.95V765.51M474.67 765.51h1.6M483.92 785.94V784.86M483.12 784.86h1.6M487.3 773.79V770.79M486.5 770.79h1.6M495.75 785.59V784.52M494.95 784.52h1.6M499.13 768.6V765.6M498.33 765.6h1.6M507.58 785.08V784.01M506.78 784.01h1.6M510.96 773.79V771.22M510.16 771.22h1.6M519.41 785.08V784.01M518.61 784.01h1.6M522.79 768.6V765.6M521.99 765.6h1.6M531.24 785.08V784.01M530.44 784.01h1.6M534.62 773.79V771.22M533.82 771.22h1.6M543.07 785.08V784.01M542.27 784.01h1.6M546.45 768.6V765.6M545.65 765.6h1.6M554.9 785.08V784.01M554.1 784.01h1.6M558.28 773.79V771.22M557.48 771.22h1.6M566.73 785.59V784.52M565.93 784.52h1.6M570.11 773.79V771.22M569.31 771.22h1.6M578.56 785.59V784.52M577.76 784.52h1.6M581.94 773.79V771.22M581.14 771.22h1.6M590.39 785.59V784.52M589.59 784.52h1.6M593.77 771.18V768.39M592.97 768.39h1.6M602.22 785.59V784.52M601.42 784.52h1.6M605.6 766.37V763.15M604.8 763.15h1.6M614.05 785.94V784.86M613.25 784.86h1.6M617.43 763.93V760.28M616.63 760.28h1.6M625.88 785.94V784.86M625.08 784.86h1.6M629.26 748.99V743.84M628.46 743.84h1.6M637.71 785.94V784.86M636.91 784.86h1.6M641.09 744.06V738.7M640.29 738.7h1.6M649.54 786.28V785.21M648.74 785.21h1.6M652.92 733.93V727.5M652.12 727.5h1.6M661.37 786.28V785.21M660.57 785.21h1.6M664.75 706.73V697.72M663.95 697.72h1.6M673.2 786.28V785.21M672.4 785.21h1.6M676.58 695.79V685.92M675.78 685.92h1.6M685.03 786.8V785.72M684.23 785.72h1.6M688.41 681.41V670.26M687.61 670.26h1.6M696.86 787.65V786.58M696.06 786.58h1.6M700.24 693V682.92M699.44 682.92h1.6M708.69 788.51V787.44M707.89 787.44h1.6M712.07 701.58V691.88M711.27 691.88h1.6M720.52 788.85V787.78M719.72 787.78h1.6M723.9 717.03V709.05M723.1 709.05h1.6" stroke="#A0A0A0" stroke-width="0.7" fill="none"/>
<path d="M399.42 804.13h3.38v-13.3h-3.38zM411.25 804.13h3.38v-14.16h-3.38zM423.08 804.13h3.38v-15.28h-3.38zM434.91 804.13h3.38v-16.48h-3.38zM446.74 804.13h3.38v-16.82h-3.38zM458.57 804.13h3.38v-17.68h-3.38zM470.4 804.13h3.38v-18.02h-3.38zM482.23 804.13h3.38v-18.19h-3.38zM494.06 804.13h3.38v-18.54h-3.38zM505.89 804.13h3.38v-19.05h-3.38zM517.72 804.13h3.38v-19.05h-3.38zM529.55 804.13h3.38v-19.05h-3.38zM541.38 804.13h3.38v-19.05h-3.38zM553.21 804.13h3.38v-19.05h-3.38zM565.04 804.13h3.38v-18.54h-3.38zM576.87 804.13h3.38v-18.54h-3.38zM588.7 804.13h3.38v-18.54h-3.38zM600.53 804.13h3.38v-18.54h-3.38zM612.36 804.13h3.38v-18.19h-3.38zM624.19 804.13h3.38v-18.19h-3.38zM636.02 804.13h3.38v-18.19h-3.38zM647.85 804.13h3.38v-17.85h-3.38zM659.68 804.13h3.38v-17.85h-3.38zM671.51 804.13h3.38v-17.85h-3.38zM683.34 804.13h3.38v-17.33h-3.38zM695.17 804.13h3.38v-16.48h-3.38zM707 804.13h3.38v-15.62h-3.38zM718.83 804.13h3.38v-15.28h-3.38z" fill="#4F81BD"/>
<path d="M402.8 804.13h3.38v-43.77h-3.38zM414.63 804.13h3.38v-77.66h-3.38zM426.46 804.13h3.38v-94.83h-3.38zM438.29 804.13h3.38v-78.09h-3.38zM450.12 804.13h3.38v-55.14h-3.38zM461.95 804.13h3.38v-45.05h-3.38zM473.78 804.13h3.38v-35.18h-3.38zM485.61 804.13h3.38v-30.34h-3.38zM497.44 804.13h3.38v-35.53h-3.38zM509.27 804.13h3.38v-30.34h-3.38zM521.1 804.13h3.38v-35.53h-3.38zM532.93 804.13h3.38v-30.34h-3.38zM544.76 804.13h3.38v-35.53h-3.38zM556.59 804.13h3.38v-30.34h-3.38zM568.42 804.13h3.38v-30.34h-3.38zM580.25 804.13h3.38v-30.34h-3.38zM592.08 804.13h3.38v-32.95h-3.38zM603.91 804.13h3.38v-37.76h-3.38zM615.74 804.13h3.38v-40.2h-3.38zM627.57 804.13h3.38v-55.14h-3.38zM639.4 804.13h3.38v-60.07h-3.38zM651.23 804.13h3.38v-70.2h-3.38zM663.06 804.13h3.38v-97.4h-3.38zM674.89 804.13h3.38v-108.34h-3.38zM686.72 804.13h3.38v-122.72h-3.38zM698.55 804.13h3.38v-111.13h-3.38zM710.38 804.13h3.38v-102.55h-3.38zM722.21 804.13h3.38v-87.1h-3.38z" fill="#C0504D"/>
<text x="3.7" y="824.3" font-size="13" fill="#000">I</text>
<text x="22.89" y="1013.29" font-size="8.3" fill="#333333" stroke="#333333" stroke-width="0.2" text-anchor="end">0</text>
<line x1="26.39" y1="1010.79" x2="28.89" y2="1010.79" stroke="#D9D9D9" stroke-width="0.8"/>
<text x="22.89" y="991.88" font-size="8.3" fill="#333333" stroke="#333333" stroke-width="0.2" text-anchor="end">5</text>
<line x1="26.39" y1="989.38" x2="28.89" y2="989.38" stroke="#D9D9D9" stroke-width="0.8"/>
<text x="22.89" y="970.47" font-size="8.3" fill="#333333" stroke="#333333" stroke-width="0.2" text-anchor="end">10</text>
<line x1="26.39" y1="967.97" x2="28.89" y2="967.97" stroke="#D9D9D9" stroke-width="0.8"/>
<text x="22.89" y="949.06" font-size="8.3" fill="#333333" stroke="#333333" stroke-width="0.2" text-anchor="end">15</text>
<line x1="26.39" y1="946.56" x2="28.89" y2="946.56" stroke="#D9D9D9" stroke-width="0.8"/>
<text x="22.89" y="927.64" font-size="8.3" fill="#333333" stroke="#333333" stroke-width="0.2" text-anchor="end">20</text>
<line x1="26.39" y1="925.14" x2="28.89" y2="925.14" stroke="#D9D9D9" stroke-width="0.8"/>
<text x="22.89" y="906.23" font-size="8.3" fill="#333333" stroke="#333333" stroke-width="0.2" text-anchor="end">25</text>
<line x1="26.39" y1="903.73" x2="28.89" y2="903.73" stroke="#D9D9D9" stroke-width="0.8"/>
<text x="22.89" y="884.82" font-size="8.3" fill="#333333" stroke="#333333" stroke-width="0.2" text-anchor="end">30</text>
<line x1="26.39" y1="882.32" x2="28.89" y2="882.32" stroke="#D9D9D9" stroke-width="0.8"/>
<text x="22.89" y="863.41" font-size="8.3" fill="#333333" stroke="#333333" stroke-width="0.2" text-anchor="end">35</text>
<line x1="26.39" y1="860.91" x2="28.89" y2="860.91" stroke="#D9D9D9" stroke-width="0.8"/>
<text x="22.89" y="842" font-size="8.3" fill="#333333" stroke="#333333" stroke-width="0.2" text-anchor="end">40</text>
<line x1="26.39" y1="839.5" x2="28.89" y2="839.5" stroke="#D9D9D9" stroke-width="0.8"/>
<line x1="28.89" y1="838" x2="28.89" y2="1010.79" stroke="#D9D9D9" stroke-width="1"/>
<line x1="28.89" y1="1010.79" x2="360.02" y2="1010.79" stroke="#D9D9D9" stroke-width="1"/>
<line x1="28.89" y1="1010.79" x2="28.89" y2="1013.29" stroke="#D9D9D9" stroke-width="0.8"/>
<line x1="40.71" y1="1010.79" x2="40.71" y2="1013.29" stroke="#D9D9D9" stroke-width="0.8"/>
<line x1="52.54" y1="1010.79" x2="52.54" y2="1013.29" stroke="#D9D9D9" stroke-width="0.8"/>
<line x1="64.36" y1="1010.79" x2="64.36" y2="1013.29" stroke="#D9D9D9" stroke-width="0.8"/>
<line x1="76.19" y1="1010.79" x2="76.19" y2="1013.29" stroke="#D9D9D9" stroke-width="0.8"/>
<line x1="88.02" y1="1010.79" x2="88.02" y2="1013.29" stroke="#D9D9D9" stroke-width="0.8"/>
<line x1="99.84" y1="1010.79" x2="99.84" y2="1013.29" stroke="#D9D9D9" stroke-width="0.8"/>
<line x1="111.67" y1="1010.79" x2="111.67" y2="1013.29" stroke="#D9D9D9" stroke-width="0.8"/>
<line x1="123.5" y1="1010.79" x2="123.5" y2="1013.29" stroke="#D9D9D9" stroke-width="0.8"/>
<line x1="135.32" y1="1010.79" x2="135.32" y2="1013.29" stroke="#D9D9D9" stroke-width="0.8"/>
<line x1="147.15" y1="1010.79" x2="147.15" y2="1013.29" stroke="#D9D9D9" stroke-width="0.8"/>
<line x1="158.97" y1="1010.79" x2="158.97" y2="1013.29" stroke="#D9D9D9" stroke-width="0.8"/>
<line x1="170.8" y1="1010.79" x2="170.8" y2="1013.29" stroke="#D9D9D9" stroke-width="0.8"/>
<line x1="182.62" y1="1010.79" x2="182.62" y2="1013.29" stroke="#D9D9D9" stroke-width="0.8"/>
<line x1="194.45" y1="1010.79" x2="194.45" y2="1013.29" stroke="#D9D9D9" stroke-width="0.8"/>
<line x1="206.28" y1="1010.79" x2="206.28" y2="1013.29" stroke="#D9D9D9" stroke-width="0.8"/>
<line x1="218.1" y1="1010.79" x2="218.1" y2="1013.29" stroke="#D9D9D9" stroke-width="0.8"/>
<line x1="229.93" y1="1010.79" x2="229.93" y2="1013.29" stroke="#D9D9D9" stroke-width="0.8"/>
<line x1="241.75" y1="1010.79" x2="241.75" y2="1013.29" stroke="#D9D9D9" stroke-width="0.8"/>
<line x1="253.58" y1="1010.79" x2="253.58" y2="1013.29" stroke="#D9D9D9" stroke-width="0.8"/>
<line x1="265.41" y1="1010.79" x2="265.41" y2="1013.29" stroke="#D9D9D9" stroke-width="0.8"/>
<line x1="277.23" y1="1010.79" x2="277.23" y2="1013.29" stroke="#D9D9D9" stroke-width="0.8"/>
<line x1="289.06" y1="1010.79" x2="289.06" y2="1013.29" stroke="#D9D9D9" stroke-width="0.8"/>
<line x1="300.88" y1="1010.79" x2="300.88" y2="1013.29" stroke="#D9D9D9" stroke-width="0.8"/>
<line x1="312.71" y1="1010.79" x2="312.71" y2="1013.29" stroke="#D9D9D9" stroke-width="0.8"/>
<line x1="324.54" y1="1010.79" x2="324.54" y2="1013.29" stroke="#D9D9D9" stroke-width="0.8"/>
<line x1="336.36" y1="1010.79" x2="336.36" y2="1013.29" stroke="#D9D9D9" stroke-width="0.8"/>
<line x1="348.19" y1="1010.79" x2="348.19" y2="1013.29" stroke="#D9D9D9" stroke-width="0.8"/>
<line x1="360.02" y1="1010.79" x2="360.02" y2="1013.29" stroke="#D9D9D9" stroke-width="0.8"/>
<text transform="translate(8.8,924.64) rotate(-90)" font-size="10.5" fill="#1a1a1a" stroke="#1a1a1a" stroke-width="0.25" text-anchor="middle" textLength="56.3" lengthAdjust="spacingAndGlyphs">SAR (W/kg)</text>
<text x="88.1" y="1034.7" font-size="10.2" fill="#1a1a1a" stroke="#1a1a1a" stroke-width="0.25" textLength="213.14" lengthAdjust="spacingAndGlyphs">Location of fiber–optic temperature sensors</text>
<text x="34.8" y="1022.29" font-size="8.3" fill="#333333" stroke="#333333" stroke-width="0.2" text-anchor="middle">1</text>
<text x="46.63" y="1022.29" font-size="8.3" fill="#333333" stroke="#333333" stroke-width="0.2" text-anchor="middle">2</text>
<text x="58.45" y="1022.29" font-size="8.3" fill="#333333" stroke="#333333" stroke-width="0.2" text-anchor="middle">3</text>
<text x="70.28" y="1022.29" font-size="8.3" fill="#333333" stroke="#333333" stroke-width="0.2" text-anchor="middle">4</text>
<text x="82.1" y="1022.29" font-size="8.3" fill="#333333" stroke="#333333" stroke-width="0.2" text-anchor="middle">5</text>
<text x="93.93" y="1022.29" font-size="8.3" fill="#333333" stroke="#333333" stroke-width="0.2" text-anchor="middle">6</text>
<text x="105.76" y="1022.29" font-size="8.3" fill="#333333" stroke="#333333" stroke-width="0.2" text-anchor="middle">7</text>
<text x="117.58" y="1022.29" font-size="8.3" fill="#333333" stroke="#333333" stroke-width="0.2" text-anchor="middle">8</text>
<text x="129.41" y="1022.29" font-size="8.3" fill="#333333" stroke="#333333" stroke-width="0.2" text-anchor="middle">9</text>
<text x="141.23" y="1022.29" font-size="8.3" fill="#333333" stroke="#333333" stroke-width="0.2" text-anchor="middle">10</text>
<text x="153.06" y="1022.29" font-size="8.3" fill="#333333" stroke="#333333" stroke-width="0.2" text-anchor="middle">11</text>
<text x="164.89" y="1022.29" font-size="8.3" fill="#333333" stroke="#333333" stroke-width="0.2" text-anchor="middle">12</text>
<text x="176.71" y="1022.29" font-size="8.3" fill="#333333" stroke="#333333" stroke-width="0.2" text-anchor="middle">13</text>
<text x="188.54" y="1022.29" font-size="8.3" fill="#333333" stroke="#333333" stroke-width="0.2" text-anchor="middle">14</text>
<text x="200.36" y="1022.29" font-size="8.3" fill="#333333" stroke="#333333" stroke-width="0.2" text-anchor="middle">15</text>
<text x="212.19" y="1022.29" font-size="8.3" fill="#333333" stroke="#333333" stroke-width="0.2" text-anchor="middle">16</text>
<text x="224.02" y="1022.29" font-size="8.3" fill="#333333" stroke="#333333" stroke-width="0.2" text-anchor="middle">17</text>
<text x="235.84" y="1022.29" font-size="8.3" fill="#333333" stroke="#333333" stroke-width="0.2" text-anchor="middle">18</text>
<text x="247.67" y="1022.29" font-size="8.3" fill="#333333" stroke="#333333" stroke-width="0.2" text-anchor="middle">19</text>
<text x="259.49" y="1022.29" font-size="8.3" fill="#333333" stroke="#333333" stroke-width="0.2" text-anchor="middle">20</text>
<text x="271.32" y="1022.29" font-size="8.3" fill="#333333" stroke="#333333" stroke-width="0.2" text-anchor="middle">21</text>
<text x="283.15" y="1022.29" font-size="8.3" fill="#333333" stroke="#333333" stroke-width="0.2" text-anchor="middle">22</text>
<text x="294.97" y="1022.29" font-size="8.3" fill="#333333" stroke="#333333" stroke-width="0.2" text-anchor="middle">23</text>
<text x="306.8" y="1022.29" font-size="8.3" fill="#333333" stroke="#333333" stroke-width="0.2" text-anchor="middle">24</text>
<text x="318.62" y="1022.29" font-size="8.3" fill="#333333" stroke="#333333" stroke-width="0.2" text-anchor="middle">25</text>
<text x="330.45" y="1022.29" font-size="8.3" fill="#333333" stroke="#333333" stroke-width="0.2" text-anchor="middle">26</text>
<text x="342.28" y="1022.29" font-size="8.3" fill="#333333" stroke="#333333" stroke-width="0.2" text-anchor="middle">27</text>
<text x="354.1" y="1022.29" font-size="8.3" fill="#333333" stroke="#333333" stroke-width="0.2" text-anchor="middle">28</text>
<rect x="97" y="843.3" width="4.7" height="4.3" fill="#4F81BD"/>
<rect x="97" y="866.3" width="4.7" height="4.3" fill="#C0504D"/>
<text x="103.93" y="848.6" font-size="10.2" fill="#1a1a1a" stroke="#1a1a1a" stroke-width="0.25" textLength="126.6" lengthAdjust="spacingAndGlyphs">Local SAR without implant</text>
<text x="103.93" y="871.6" font-size="10.2" fill="#1a1a1a" stroke="#1a1a1a" stroke-width="0.25" textLength="111.1" lengthAdjust="spacingAndGlyphs">Local SAR with implant</text>
<text x="236.5" y="845.6" font-size="10.8" fill="#1a1a1a" stroke="#1a1a1a" stroke-width="0.25">b</text>
<text x="220.5" y="869.7" font-size="10.8" fill="#1a1a1a" stroke="#1a1a1a" stroke-width="0.25">b</text>
<path d="M33.11 995.03V993.96M32.31 993.96h1.6M36.49 963.99V959.49M35.69 959.49h1.6M44.93 993.79V992.72M44.13 992.72h1.6M48.32 933.71V926.26M47.52 926.26h1.6M56.76 993.45V992.38M55.96 992.38h1.6M60.14 921.85V913.5M59.34 913.5h1.6M68.59 992.93V991.86M67.79 991.86h1.6M71.97 940.56V933.97M71.17 933.97h1.6M80.41 992.93V991.86M79.61 991.86h1.6M83.8 952.55V946.98M83 946.98h1.6M92.24 992.42V991.35M91.44 991.35h1.6M95.62 956.83V951.27M94.82 951.27h1.6M104.06 992.08V991.01M103.26 991.01h1.6M107.45 960.86V956.02M106.65 956.02h1.6M115.89 991.73V990.66M115.09 990.66h1.6M119.27 969.89V965.18M118.47 965.18h1.6M127.72 991.73V990.66M126.92 990.66h1.6M131.1 969.17V965.31M130.3 965.31h1.6M139.54 991.73V990.66M138.74 990.66h1.6M142.93 972.46V968.82M142.13 968.82h1.6M151.37 991.73V990.66M150.57 990.66h1.6M154.75 979.96V976.96M153.95 976.96h1.6M163.19 991.73V990.66M162.39 990.66h1.6M166.58 977.82V974.6M165.78 974.6h1.6M175.02 991.73V990.66M174.22 990.66h1.6M178.4 979.96V976.96M177.6 976.96h1.6M186.85 991.73V990.66M186.05 990.66h1.6M190.23 978.54V975.55M189.43 975.55h1.6M198.67 991.73V990.66M197.87 990.66h1.6M202.06 980.26V977.26M201.26 977.26h1.6M210.5 991.73V990.66M209.7 990.66h1.6M213.88 977.82V974.6M213.08 974.6h1.6M222.32 991.73V990.66M221.52 990.66h1.6M225.71 979.57V976.57M224.91 976.57h1.6M234.15 991.73V990.66M233.35 990.66h1.6M237.53 973.53V969.89M236.73 969.89h1.6M245.98 992.08V991.01M245.18 991.01h1.6M249.36 969.17V965.18M248.56 965.18h1.6M257.8 992.08V991.01M257 991.01h1.6M261.19 972.12V967.41M260.39 967.41h1.6M269.63 992.08V991.01M268.83 991.01h1.6M273.01 949.25V943.9M272.21 943.9h1.6M281.45 992.42V991.35M280.65 991.35h1.6M284.84 932.6V925.74M284.04 925.74h1.6M293.28 992.93V991.86M292.48 991.86h1.6M296.66 908.02V898.81M295.86 898.81h1.6M305.11 993.79V992.72M304.31 992.72h1.6M308.49 888.92V877.78M307.69 877.78h1.6M316.93 994.3V993.23M316.13 993.23h1.6M320.32 876.76V864.34M319.52 864.34h1.6M328.76 995.03V993.96M327.96 993.96h1.6M332.14 897.91V887.63M331.34 887.63h1.6M340.58 995.55V994.47M339.78 994.47h1.6M343.97 902.02V891.96M343.17 891.96h1.6M352.41 995.89V994.82M351.61 994.82h1.6M355.79 912.3V903.31M354.99 903.31h1.6" stroke="#A0A0A0" stroke-width="0.7" fill="none"/>
<path d="M31.42 1010.79h3.38v-15.76h-3.38zM43.24 1010.79h3.38v-17h-3.38zM55.07 1010.79h3.38v-17.34h-3.38zM66.9 1010.79h3.38v-17.86h-3.38zM78.72 1010.79h3.38v-17.86h-3.38zM90.55 1010.79h3.38v-18.37h-3.38zM102.37 1010.79h3.38v-18.71h-3.38zM114.2 1010.79h3.38v-19.06h-3.38zM126.03 1010.79h3.38v-19.06h-3.38zM137.85 1010.79h3.38v-19.06h-3.38zM149.68 1010.79h3.38v-19.06h-3.38zM161.5 1010.79h3.38v-19.06h-3.38zM173.33 1010.79h3.38v-19.06h-3.38zM185.16 1010.79h3.38v-19.06h-3.38zM196.98 1010.79h3.38v-19.06h-3.38zM208.81 1010.79h3.38v-19.06h-3.38zM220.63 1010.79h3.38v-19.06h-3.38zM232.46 1010.79h3.38v-19.06h-3.38zM244.29 1010.79h3.38v-18.71h-3.38zM256.11 1010.79h3.38v-18.71h-3.38zM267.94 1010.79h3.38v-18.71h-3.38zM279.76 1010.79h3.38v-18.37h-3.38zM291.59 1010.79h3.38v-17.86h-3.38zM303.42 1010.79h3.38v-17h-3.38zM315.24 1010.79h3.38v-16.49h-3.38zM327.07 1010.79h3.38v-15.76h-3.38zM338.89 1010.79h3.38v-15.24h-3.38zM350.72 1010.79h3.38v-14.9h-3.38z" fill="#4F81BD"/>
<path d="M34.8 1010.79h3.38v-46.8h-3.38zM46.63 1010.79h3.38v-77.08h-3.38zM58.45 1010.79h3.38v-88.94h-3.38zM70.28 1010.79h3.38v-70.23h-3.38zM82.1 1010.79h3.38v-58.24h-3.38zM93.93 1010.79h3.38v-53.96h-3.38zM105.76 1010.79h3.38v-49.93h-3.38zM117.58 1010.79h3.38v-40.9h-3.38zM129.41 1010.79h3.38v-41.62h-3.38zM141.23 1010.79h3.38v-38.33h-3.38zM153.06 1010.79h3.38v-30.83h-3.38zM164.89 1010.79h3.38v-32.97h-3.38zM176.71 1010.79h3.38v-30.83h-3.38zM188.54 1010.79h3.38v-32.25h-3.38zM200.36 1010.79h3.38v-30.53h-3.38zM212.19 1010.79h3.38v-32.97h-3.38zM224.02 1010.79h3.38v-31.22h-3.38zM235.84 1010.79h3.38v-37.26h-3.38zM247.67 1010.79h3.38v-41.62h-3.38zM259.49 1010.79h3.38v-38.67h-3.38zM271.32 1010.79h3.38v-61.54h-3.38zM283.15 1010.79h3.38v-78.19h-3.38zM294.97 1010.79h3.38v-102.77h-3.38zM306.8 1010.79h3.38v-121.87h-3.38zM318.62 1010.79h3.38v-134.03h-3.38zM330.45 1010.79h3.38v-112.88h-3.38zM342.28 1010.79h3.38v-108.77h-3.38zM354.1 1010.79h3.38v-98.49h-3.38z" fill="#C0504D"/>
<text x="367.18" y="824.7" font-size="13" fill="#000">J</text>
<text x="390.98" y="1014.15" font-size="8.3" fill="#333333" stroke="#333333" stroke-width="0.2" text-anchor="end">0</text>
<line x1="394.48" y1="1011.65" x2="396.98" y2="1011.65" stroke="#D9D9D9" stroke-width="0.8"/>
<text x="390.98" y="992.69" font-size="8.3" fill="#333333" stroke="#333333" stroke-width="0.2" text-anchor="end">5</text>
<line x1="394.48" y1="990.19" x2="396.98" y2="990.19" stroke="#D9D9D9" stroke-width="0.8"/>
<text x="390.98" y="971.24" font-size="8.3" fill="#333333" stroke="#333333" stroke-width="0.2" text-anchor="end">10</text>
<line x1="394.48" y1="968.74" x2="396.98" y2="968.74" stroke="#D9D9D9" stroke-width="0.8"/>
<text x="390.98" y="949.78" font-size="8.3" fill="#333333" stroke="#333333" stroke-width="0.2" text-anchor="end">15</text>
<line x1="394.48" y1="947.28" x2="396.98" y2="947.28" stroke="#D9D9D9" stroke-width="0.8"/>
<text x="390.98" y="928.33" font-size="8.3" fill="#333333" stroke="#333333" stroke-width="0.2" text-anchor="end">20</text>
<line x1="394.48" y1="925.83" x2="396.98" y2="925.83" stroke="#D9D9D9" stroke-width="0.8"/>
<text x="390.98" y="906.87" font-size="8.3" fill="#333333" stroke="#333333" stroke-width="0.2" text-anchor="end">25</text>
<line x1="394.48" y1="904.37" x2="396.98" y2="904.37" stroke="#D9D9D9" stroke-width="0.8"/>
<text x="390.98" y="885.41" font-size="8.3" fill="#333333" stroke="#333333" stroke-width="0.2" text-anchor="end">30</text>
<line x1="394.48" y1="882.91" x2="396.98" y2="882.91" stroke="#D9D9D9" stroke-width="0.8"/>
<text x="390.98" y="863.96" font-size="8.3" fill="#333333" stroke="#333333" stroke-width="0.2" text-anchor="end">35</text>
<line x1="394.48" y1="861.46" x2="396.98" y2="861.46" stroke="#D9D9D9" stroke-width="0.8"/>
<text x="390.98" y="842.5" font-size="8.3" fill="#333333" stroke="#333333" stroke-width="0.2" text-anchor="end">40</text>
<line x1="394.48" y1="840" x2="396.98" y2="840" stroke="#D9D9D9" stroke-width="0.8"/>
<line x1="396.98" y1="838.5" x2="396.98" y2="1011.65" stroke="#D9D9D9" stroke-width="1"/>
<line x1="396.98" y1="1011.65" x2="728.22" y2="1011.65" stroke="#D9D9D9" stroke-width="1"/>
<line x1="396.98" y1="1011.65" x2="396.98" y2="1014.15" stroke="#D9D9D9" stroke-width="0.8"/>
<line x1="408.81" y1="1011.65" x2="408.81" y2="1014.15" stroke="#D9D9D9" stroke-width="0.8"/>
<line x1="420.64" y1="1011.65" x2="420.64" y2="1014.15" stroke="#D9D9D9" stroke-width="0.8"/>
<line x1="432.47" y1="1011.65" x2="432.47" y2="1014.15" stroke="#D9D9D9" stroke-width="0.8"/>
<line x1="444.3" y1="1011.65" x2="444.3" y2="1014.15" stroke="#D9D9D9" stroke-width="0.8"/>
<line x1="456.13" y1="1011.65" x2="456.13" y2="1014.15" stroke="#D9D9D9" stroke-width="0.8"/>
<line x1="467.96" y1="1011.65" x2="467.96" y2="1014.15" stroke="#D9D9D9" stroke-width="0.8"/>
<line x1="479.79" y1="1011.65" x2="479.79" y2="1014.15" stroke="#D9D9D9" stroke-width="0.8"/>
<line x1="491.62" y1="1011.65" x2="491.62" y2="1014.15" stroke="#D9D9D9" stroke-width="0.8"/>
<line x1="503.45" y1="1011.65" x2="503.45" y2="1014.15" stroke="#D9D9D9" stroke-width="0.8"/>
<line x1="515.28" y1="1011.65" x2="515.28" y2="1014.15" stroke="#D9D9D9" stroke-width="0.8"/>
<line x1="527.12" y1="1011.65" x2="527.12" y2="1014.15" stroke="#D9D9D9" stroke-width="0.8"/>
<line x1="538.94" y1="1011.65" x2="538.94" y2="1014.15" stroke="#D9D9D9" stroke-width="0.8"/>
<line x1="550.77" y1="1011.65" x2="550.77" y2="1014.15" stroke="#D9D9D9" stroke-width="0.8"/>
<line x1="562.61" y1="1011.65" x2="562.61" y2="1014.15" stroke="#D9D9D9" stroke-width="0.8"/>
<line x1="574.43" y1="1011.65" x2="574.43" y2="1014.15" stroke="#D9D9D9" stroke-width="0.8"/>
<line x1="586.26" y1="1011.65" x2="586.26" y2="1014.15" stroke="#D9D9D9" stroke-width="0.8"/>
<line x1="598.1" y1="1011.65" x2="598.1" y2="1014.15" stroke="#D9D9D9" stroke-width="0.8"/>
<line x1="609.92" y1="1011.65" x2="609.92" y2="1014.15" stroke="#D9D9D9" stroke-width="0.8"/>
<line x1="621.75" y1="1011.65" x2="621.75" y2="1014.15" stroke="#D9D9D9" stroke-width="0.8"/>
<line x1="633.58" y1="1011.65" x2="633.58" y2="1014.15" stroke="#D9D9D9" stroke-width="0.8"/>
<line x1="645.41" y1="1011.65" x2="645.41" y2="1014.15" stroke="#D9D9D9" stroke-width="0.8"/>
<line x1="657.24" y1="1011.65" x2="657.24" y2="1014.15" stroke="#D9D9D9" stroke-width="0.8"/>
<line x1="669.07" y1="1011.65" x2="669.07" y2="1014.15" stroke="#D9D9D9" stroke-width="0.8"/>
<line x1="680.9" y1="1011.65" x2="680.9" y2="1014.15" stroke="#D9D9D9" stroke-width="0.8"/>
<line x1="692.73" y1="1011.65" x2="692.73" y2="1014.15" stroke="#D9D9D9" stroke-width="0.8"/>
<line x1="704.56" y1="1011.65" x2="704.56" y2="1014.15" stroke="#D9D9D9" stroke-width="0.8"/>
<line x1="716.39" y1="1011.65" x2="716.39" y2="1014.15" stroke="#D9D9D9" stroke-width="0.8"/>
<line x1="728.22" y1="1011.65" x2="728.22" y2="1014.15" stroke="#D9D9D9" stroke-width="0.8"/>
<text transform="translate(376.6,925.33) rotate(-90)" font-size="10.5" fill="#1a1a1a" stroke="#1a1a1a" stroke-width="0.25" text-anchor="middle" textLength="56.3" lengthAdjust="spacingAndGlyphs">SAR (W/kg)</text>
<text x="456.3" y="1035.5" font-size="10.2" fill="#1a1a1a" stroke="#1a1a1a" stroke-width="0.25" textLength="213.14" lengthAdjust="spacingAndGlyphs">Location of fiber–optic temperature sensors</text>
<text x="402.9" y="1023.15" font-size="8.3" fill="#333333" stroke="#333333" stroke-width="0.2" text-anchor="middle">1</text>
<text x="414.73" y="1023.15" font-size="8.3" fill="#333333" stroke="#333333" stroke-width="0.2" text-anchor="middle">2</text>
<text x="426.56" y="1023.15" font-size="8.3" fill="#333333" stroke="#333333" stroke-width="0.2" text-anchor="middle">3</text>
<text x="438.39" y="1023.15" font-size="8.3" fill="#333333" stroke="#333333" stroke-width="0.2" text-anchor="middle">4</text>
<text x="450.22" y="1023.15" font-size="8.3" fill="#333333" stroke="#333333" stroke-width="0.2" text-anchor="middle">5</text>
<text x="462.05" y="1023.15" font-size="8.3" fill="#333333" stroke="#333333" stroke-width="0.2" text-anchor="middle">6</text>
<text x="473.88" y="1023.15" font-size="8.3" fill="#333333" stroke="#333333" stroke-width="0.2" text-anchor="middle">7</text>
<text x="485.71" y="1023.15" font-size="8.3" fill="#333333" stroke="#333333" stroke-width="0.2" text-anchor="middle">8</text>
<text x="497.54" y="1023.15" font-size="8.3" fill="#333333" stroke="#333333" stroke-width="0.2" text-anchor="middle">9</text>
<text x="509.37" y="1023.15" font-size="8.3" fill="#333333" stroke="#333333" stroke-width="0.2" text-anchor="middle">10</text>
<text x="521.2" y="1023.15" font-size="8.3" fill="#333333" stroke="#333333" stroke-width="0.2" text-anchor="middle">11</text>
<text x="533.03" y="1023.15" font-size="8.3" fill="#333333" stroke="#333333" stroke-width="0.2" text-anchor="middle">12</text>
<text x="544.86" y="1023.15" font-size="8.3" fill="#333333" stroke="#333333" stroke-width="0.2" text-anchor="middle">13</text>
<text x="556.69" y="1023.15" font-size="8.3" fill="#333333" stroke="#333333" stroke-width="0.2" text-anchor="middle">14</text>
<text x="568.52" y="1023.15" font-size="8.3" fill="#333333" stroke="#333333" stroke-width="0.2" text-anchor="middle">15</text>
<text x="580.35" y="1023.15" font-size="8.3" fill="#333333" stroke="#333333" stroke-width="0.2" text-anchor="middle">16</text>
<text x="592.18" y="1023.15" font-size="8.3" fill="#333333" stroke="#333333" stroke-width="0.2" text-anchor="middle">17</text>
<text x="604.01" y="1023.15" font-size="8.3" fill="#333333" stroke="#333333" stroke-width="0.2" text-anchor="middle">18</text>
<text x="615.84" y="1023.15" font-size="8.3" fill="#333333" stroke="#333333" stroke-width="0.2" text-anchor="middle">19</text>
<text x="627.67" y="1023.15" font-size="8.3" fill="#333333" stroke="#333333" stroke-width="0.2" text-anchor="middle">20</text>
<text x="639.5" y="1023.15" font-size="8.3" fill="#333333" stroke="#333333" stroke-width="0.2" text-anchor="middle">21</text>
<text x="651.33" y="1023.15" font-size="8.3" fill="#333333" stroke="#333333" stroke-width="0.2" text-anchor="middle">22</text>
<text x="663.16" y="1023.15" font-size="8.3" fill="#333333" stroke="#333333" stroke-width="0.2" text-anchor="middle">23</text>
<text x="674.99" y="1023.15" font-size="8.3" fill="#333333" stroke="#333333" stroke-width="0.2" text-anchor="middle">24</text>
<text x="686.82" y="1023.15" font-size="8.3" fill="#333333" stroke="#333333" stroke-width="0.2" text-anchor="middle">25</text>
<text x="698.65" y="1023.15" font-size="8.3" fill="#333333" stroke="#333333" stroke-width="0.2" text-anchor="middle">26</text>
<text x="710.48" y="1023.15" font-size="8.3" fill="#333333" stroke="#333333" stroke-width="0.2" text-anchor="middle">27</text>
<text x="722.31" y="1023.15" font-size="8.3" fill="#333333" stroke="#333333" stroke-width="0.2" text-anchor="middle">28</text>
<rect x="465.1" y="844.2" width="4.7" height="4.3" fill="#4F81BD"/>
<rect x="465.1" y="867" width="4.7" height="4.3" fill="#C0504D"/>
<text x="472.03" y="849.5" font-size="10.2" fill="#1a1a1a" stroke="#1a1a1a" stroke-width="0.25" textLength="126.6" lengthAdjust="spacingAndGlyphs">Local SAR without implant</text>
<text x="472.03" y="872.3" font-size="10.2" fill="#1a1a1a" stroke="#1a1a1a" stroke-width="0.25" textLength="111.1" lengthAdjust="spacingAndGlyphs">Local SAR with implant</text>
<text x="604.6" y="846.5" font-size="10.8" fill="#1a1a1a" stroke="#1a1a1a" stroke-width="0.25">b</text>
<text x="588.6" y="870.4" font-size="10.8" fill="#1a1a1a" stroke="#1a1a1a" stroke-width="0.25">b</text>
<path d="M401.21 995.86V994.79M400.41 994.79h1.6M404.59 964.02V959.51M403.79 959.51h1.6M413.04 994.66V993.58M412.24 993.58h1.6M416.42 937.84V930.97M415.62 930.97h1.6M424.87 994.14V993.07M424.07 993.07h1.6M428.25 926.68V919.22M427.45 919.22h1.6M436.7 993.8V992.73M435.9 992.73h1.6M440.08 944.92V938.91M439.28 938.91h1.6M448.53 993.8V992.73M447.73 992.73h1.6M451.91 957.37V952.52M451.11 952.52h1.6M460.36 993.28V992.21M459.56 992.21h1.6M463.74 960.84V955.99M462.94 955.99h1.6M472.19 992.94V991.87M471.39 991.87h1.6M475.57 973.33V969.17M474.77 969.17h1.6M484.02 992.6V991.52M483.22 991.52h1.6M487.4 976.46V972.47M486.6 972.47h1.6M495.85 992.6V991.52M495.05 991.52h1.6M499.23 980.45V977.45M498.43 977.45h1.6M507.68 992.04V990.97M506.88 990.97h1.6M511.06 976.12V972.69M510.26 972.69h1.6M519.51 992.04V990.97M518.71 990.97h1.6M522.89 982.47V979.68M522.09 979.68h1.6M531.34 992.04V990.97M530.54 990.97h1.6M534.72 980.32V977.32M533.92 977.32h1.6M543.17 992.04V990.97M542.37 990.97h1.6M546.55 985.9V983.33M545.75 983.33h1.6M555 992.04V990.97M554.2 990.97h1.6M558.38 981.18V978.18M557.58 978.18h1.6M566.83 992.6V991.52M566.03 991.52h1.6M570.21 981.61V978.61M569.41 978.61h1.6M578.66 992.6V991.52M577.86 991.52h1.6M582.04 984.62V982.04M581.24 982.04h1.6M590.49 992.6V991.52M589.69 991.52h1.6M593.87 978.18V974.96M593.07 974.96h1.6M602.32 992.6V991.52M601.52 991.52h1.6M605.7 980.45V977.45M604.9 977.45h1.6M614.15 992.94V991.87M613.35 991.87h1.6M617.53 981.61V977.75M616.73 977.75h1.6M625.98 992.94V991.87M625.18 991.87h1.6M629.36 976.03V971.31M628.56 971.31h1.6M637.81 992.94V991.87M637.01 991.87h1.6M641.19 957.37V952.52M640.39 952.52h1.6M649.64 993.28V992.21M648.84 992.21h1.6M653.02 946.98V940.97M652.22 940.97h1.6M661.47 993.8V992.73M660.67 992.73h1.6M664.85 920.46V912.31M664.05 912.31h1.6M673.3 994.66V993.58M672.5 993.58h1.6M676.68 911.45V902.44M675.88 902.44h1.6M685.13 995.17V994.1M684.33 994.1h1.6M688.51 902.22V892.35M687.71 892.35h1.6M696.96 995.51V994.44M696.16 994.44h1.6M700.34 916.13V907.12M699.54 907.12h1.6M708.79 996.37V995.3M707.99 995.3h1.6M712.17 927.37V919.65M711.37 919.65h1.6M720.62 996.76V995.69M719.82 995.69h1.6M724 929.99V922.26M723.2 922.26h1.6" stroke="#A0A0A0" stroke-width="0.7" fill="none"/>
<path d="M399.52 1011.65h3.38v-15.79h-3.38zM411.35 1011.65h3.38v-16.99h-3.38zM423.18 1011.65h3.38v-17.51h-3.38zM435.01 1011.65h3.38v-17.85h-3.38zM446.84 1011.65h3.38v-17.85h-3.38zM458.67 1011.65h3.38v-18.37h-3.38zM470.5 1011.65h3.38v-18.71h-3.38zM482.33 1011.65h3.38v-19.05h-3.38zM494.16 1011.65h3.38v-19.05h-3.38zM505.99 1011.65h3.38v-19.61h-3.38zM517.82 1011.65h3.38v-19.61h-3.38zM529.65 1011.65h3.38v-19.61h-3.38zM541.48 1011.65h3.38v-19.61h-3.38zM553.31 1011.65h3.38v-19.61h-3.38zM565.14 1011.65h3.38v-19.05h-3.38zM576.97 1011.65h3.38v-19.05h-3.38zM588.8 1011.65h3.38v-19.05h-3.38zM600.63 1011.65h3.38v-19.05h-3.38zM612.46 1011.65h3.38v-18.71h-3.38zM624.29 1011.65h3.38v-18.71h-3.38zM636.12 1011.65h3.38v-18.71h-3.38zM647.95 1011.65h3.38v-18.37h-3.38zM659.78 1011.65h3.38v-17.85h-3.38zM671.61 1011.65h3.38v-16.99h-3.38zM683.44 1011.65h3.38v-16.48h-3.38zM695.27 1011.65h3.38v-16.14h-3.38zM707.1 1011.65h3.38v-15.28h-3.38zM718.93 1011.65h3.38v-14.89h-3.38z" fill="#4F81BD"/>
<path d="M402.9 1011.65h3.38v-47.63h-3.38zM414.73 1011.65h3.38v-73.81h-3.38zM426.56 1011.65h3.38v-84.97h-3.38zM438.39 1011.65h3.38v-66.73h-3.38zM450.22 1011.65h3.38v-54.28h-3.38zM462.05 1011.65h3.38v-50.81h-3.38zM473.88 1011.65h3.38v-38.32h-3.38zM485.71 1011.65h3.38v-35.19h-3.38zM497.54 1011.65h3.38v-31.2h-3.38zM509.37 1011.65h3.38v-35.53h-3.38zM521.2 1011.65h3.38v-29.18h-3.38zM533.03 1011.65h3.38v-31.33h-3.38zM544.86 1011.65h3.38v-25.75h-3.38zM556.69 1011.65h3.38v-30.47h-3.38zM568.52 1011.65h3.38v-30.04h-3.38zM580.35 1011.65h3.38v-27.03h-3.38zM592.18 1011.65h3.38v-33.47h-3.38zM604.01 1011.65h3.38v-31.2h-3.38zM615.84 1011.65h3.38v-30.04h-3.38zM627.67 1011.65h3.38v-35.62h-3.38zM639.5 1011.65h3.38v-54.28h-3.38zM651.33 1011.65h3.38v-64.67h-3.38zM663.16 1011.65h3.38v-91.19h-3.38zM674.99 1011.65h3.38v-100.2h-3.38zM686.82 1011.65h3.38v-109.43h-3.38zM698.65 1011.65h3.38v-95.52h-3.38zM710.48 1011.65h3.38v-84.28h-3.38zM722.31 1011.65h3.38v-81.66h-3.38z" fill="#C0504D"/>
</svg>
</body></html>
